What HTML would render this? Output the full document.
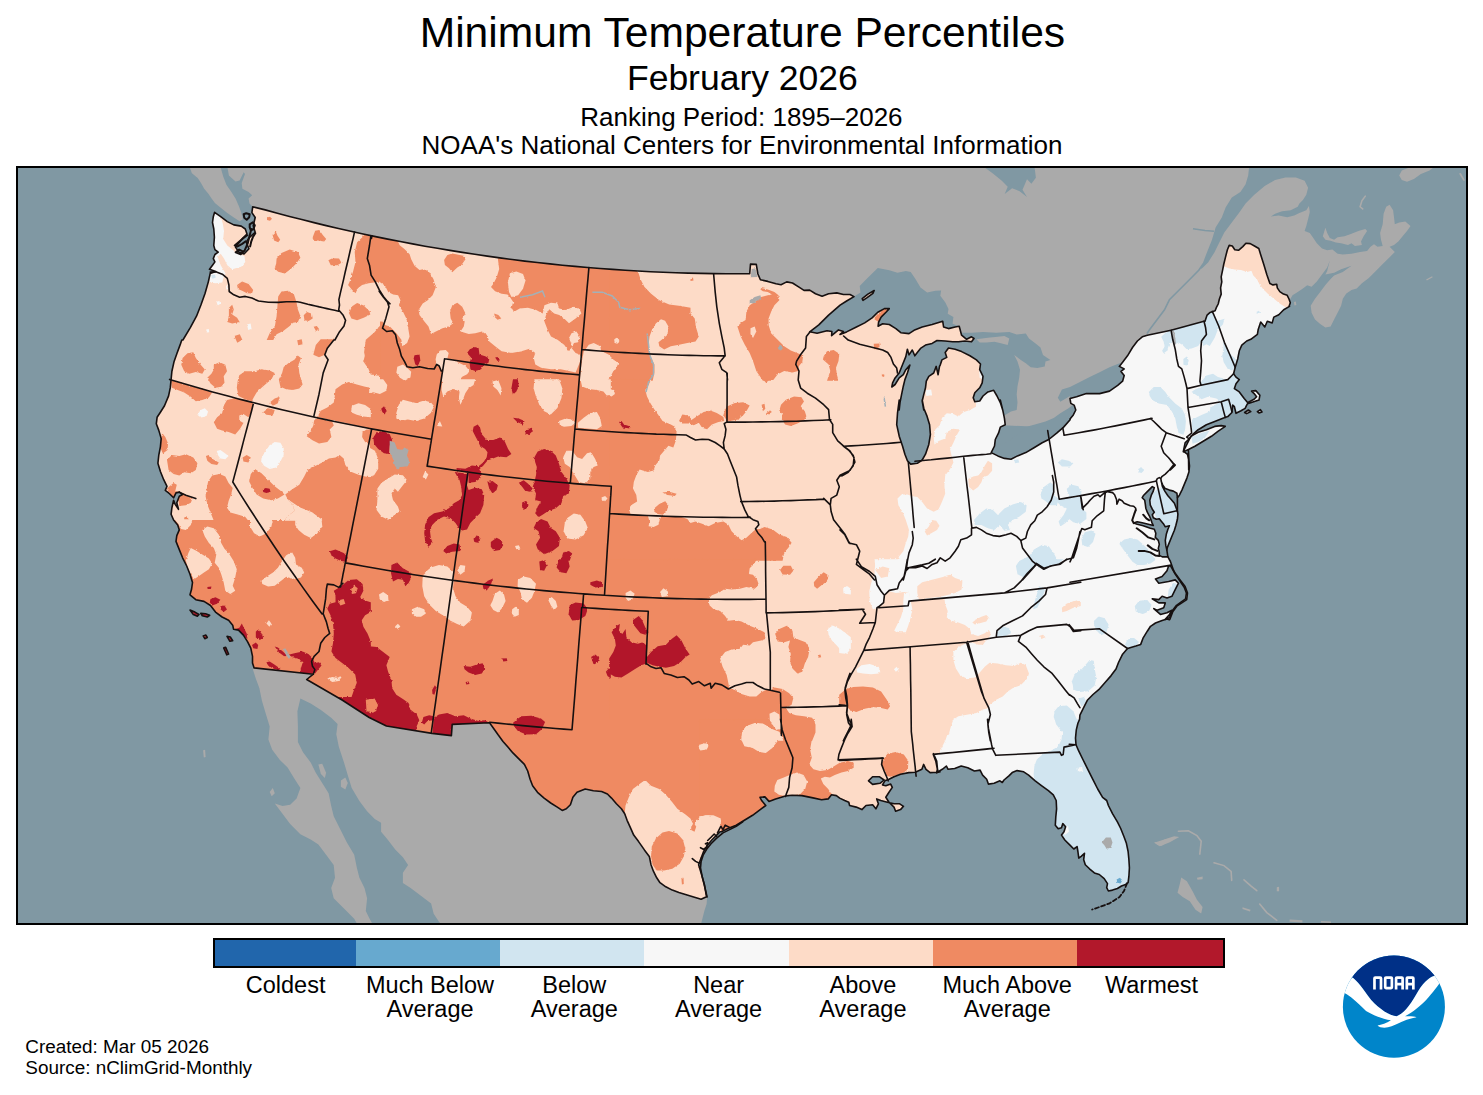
<!DOCTYPE html>
<html><head><meta charset="utf-8"><title>Minimum Temperature Percentiles</title>
<style>
html,body{margin:0;padding:0;background:#fff;}
body{width:1483px;height:1095px;overflow:hidden;font-family:"Liberation Sans",sans-serif;}
svg{display:block;}
text{font-family:"Liberation Sans",sans-serif;fill:#000;}
</style></head><body>
<svg width="1483" height="1095" viewBox="0 0 1483 1095">
<rect x="0" y="0" width="1483" height="1095" fill="#fff"/>
<!-- titles -->
<text x="742.4" y="46.8" font-size="42.6" text-anchor="middle">Minimum Temperature Percentiles</text>
<text x="742.4" y="90.2" font-size="35.5" text-anchor="middle">February 2026</text>
<text x="741.4" y="125.6" font-size="26" text-anchor="middle">Ranking Period: 1895–2026</text>
<text x="742" y="153.7" font-size="26" text-anchor="middle">NOAA's National Centers for Environmental Information</text>
<g id="map">
<defs><clipPath id="fr"><rect x="17" y="167" width="1450" height="757"/></clipPath>
<filter id="rough" x="0" y="0" width="100%" height="100%" filterUnits="userSpaceOnUse" primitiveUnits="userSpaceOnUse"><feTurbulence type="fractalNoise" baseFrequency="0.45" numOctaves="1" seed="3" result="n"/><feDisplacementMap in="SourceGraphic" in2="n" scale="2.6" xChannelSelector="R" yChannelSelector="G"/></filter>
<clipPath id="us"><path d="M252.7 206.8 L265.2 209.9 L277.4 213.2 L289.5 216.4 L301.8 219.6 L314.0 222.6 L326.2 225.6 L338.5 228.5 L350.8 231.3 L363.1 234.0 L375.5 236.6 L387.8 239.1 L400.2 241.5 L412.6 243.9 L425.0 246.2 L437.4 248.3 L449.9 250.4 L462.3 252.4 L474.8 254.3 L487.3 256.1 L499.8 257.9 L512.3 259.5 L524.8 261.1 L537.3 262.5 L549.9 263.9 L562.4 265.2 L575.0 266.4 L587.6 267.5 L600.1 268.5 L612.7 269.4 L625.3 270.3 L637.9 271.0 L650.5 271.7 L663.1 272.2 L675.7 272.7 L688.3 273.1 L701.0 273.4 L713.6 273.6 L726.2 273.7 L738.8 273.7 L749.7 273.6 L750.5 264.1 L756.3 264.4 L757.9 274.0 L760.4 279.7 L767.8 281.4 L776.0 283.8 L781.0 284.7 L786.7 281.9 L792.5 283.0 L799.0 287.1 L804.0 290.4 L809.7 290.1 L815.5 293.7 L822.1 296.2 L828.6 293.7 L836.8 292.9 L843.4 294.5 L850.0 294.5 L854.0 296.6 L846.6 301.0 L840.1 305.2 L828.6 315.1 L818.8 324.9 L809.7 331.8 L817.1 333.2 L827.0 330.7 L831.9 331.5 L831.6 335.6 L838.5 329.9 L843.4 331.5 L840.0 334.4 L846.6 331.9 L856.4 327.0 L864.7 322.9 L872.1 317.9 L877.8 312.2 L884.4 308.6 L889.3 308.6 L886.0 312.2 L881.1 317.1 L878.6 322.1 L878.1 326.2 L882.7 323.7 L889.3 324.5 L895.9 328.6 L900.8 332.7 L909.0 333.6 L914.0 330.3 L922.2 327.0 L932.1 324.5 L942.7 321.2 L943.6 327.0 L948.5 328.6 L955.1 327.0 L959.2 326.2 L961.6 335.2 L966.6 339.3 L971.5 336.8 L974.0 338.5 L971.5 341.8 L964.9 341.0 L958.4 341.8 L952.6 341.8 L945.2 341.0 L937.0 340.5 L932.1 343.4 L925.5 345.1 L920.5 348.4 L917.3 352.5 L914.8 355.8 L912.3 350.0 L909.0 354.9 L907.4 349.2 L905.8 356.6 L902.5 364.8 L899.2 373.0 L895.1 377.9 L892.6 382.9 L891.8 387.0 L895.1 384.5 L899.2 377.9 L903.3 374.7 L905.8 369.7 L909.9 365.1 L907.4 373.0 L904.9 379.6 L903.3 386.2 L901.6 394.4 L900.0 402.6 L899.2 410.0 L899.2 400.0 L897.5 413.2 L896.7 424.7 L899.2 436.2 L902.5 446.0 L904.9 454.2 L907.4 460.8 L910.7 464.1 L917.3 463.3 L922.2 460.0 L925.5 454.2 L928.8 444.4 L930.4 434.5 L929.6 424.7 L927.1 416.4 L923.8 408.2 L922.2 400.0 L923.8 410.0 L922.2 401.0 L923.8 394.4 L925.5 387.8 L926.3 381.2 L928.8 376.3 L933.7 373.0 L936.2 366.4 L938.1 374.7 L939.5 366.4 L940.3 364.8 L941.9 359.9 L946.8 357.4 L945.2 352.5 L948.5 348.0 L955.1 349.2 L961.6 351.6 L969.9 355.8 L976.4 359.9 L980.5 364.0 L979.7 369.7 L983.0 376.3 L982.2 382.9 L979.7 387.8 L974.8 392.7 L973.2 397.7 L974.8 401.8 L979.7 401.0 L983.0 396.0 L987.9 391.9 L993.7 390.3 L997.0 396.0 L1000.3 402.6 L1002.7 410.0 L1000.3 400.0 L1002.7 409.9 L1004.4 418.1 L1005.2 424.7 L1000.3 427.1 L998.6 432.9 L995.3 439.5 L994.5 446.0 L991.2 452.6 L997.8 455.9 L1004.4 458.4 L1011.0 459.2 L1017.5 455.9 L1025.8 452.6 L1034.0 447.7 L1042.2 442.7 L1048.8 439.5 L1057.0 432.9 L1063.6 427.1 L1070.1 419.7 L1070.0 419.0 L1073.3 414.9 L1075.8 410.0 L1074.1 405.1 L1070.8 403.4 L1070.0 398.5 L1076.6 396.8 L1086.4 393.6 L1099.6 393.6 L1109.5 391.1 L1117.7 385.3 L1122.6 381.2 L1124.2 375.5 L1121.0 371.4 L1124.2 368.9 L1119.3 366.4 L1122.6 362.3 L1127.5 355.8 L1132.5 347.5 L1137.4 341.0 L1142.3 336.8 L1147.3 335.2 L1171.1 330.3 L1204.0 321.2 L1205.0 321.2 L1207.1 315.1 L1210.1 312.4 L1215.1 310.8 L1216.3 307.7 L1218.2 304.0 L1219.4 299.0 L1221.2 294.1 L1220.6 287.9 L1221.8 281.8 L1221.2 276.8 L1222.5 270.7 L1223.7 264.5 L1225.5 257.1 L1227.4 249.7 L1229.2 245.4 L1232.3 246.0 L1234.8 249.7 L1238.5 250.3 L1242.8 246.6 L1245.9 243.3 L1250.2 243.6 L1254.5 246.0 L1258.8 248.5 L1260.7 254.7 L1263.8 264.5 L1266.8 274.4 L1269.9 283.6 L1273.0 284.9 L1276.7 284.2 L1277.3 287.9 L1279.8 291.6 L1283.5 294.1 L1287.2 295.3 L1289.0 299.0 L1290.3 302.7 L1289.0 306.4 L1289.5 306.4 L1283.7 309.7 L1278.8 314.7 L1273.8 317.1 L1272.2 322.9 L1267.3 321.2 L1264.8 327.0 L1260.7 322.1 L1258.2 329.5 L1257.4 334.4 L1250.8 339.3 L1246.7 341.0 L1241.8 345.1 L1239.3 350.8 L1237.7 359.0 L1235.2 367.3 L1233.6 373.8 L1236.0 377.1 L1239.3 379.6 L1236.0 383.7 L1234.4 388.6 L1239.3 391.9 L1244.2 398.5 L1248.4 403.4 L1259.0 400.1 L1259.9 395.2 L1255.8 390.6 L1251.6 391.1 L1254.1 393.6 L1256.6 396.8 L1254.1 399.3 L1248.4 402.1 L1246.7 405.1 L1245.1 408.4 L1241.0 410.8 L1236.0 413.3 L1234.4 406.7 L1232.7 405.1 L1231.9 412.5 L1227.8 416.6 L1222.9 418.2 L1214.7 421.5 L1206.4 424.8 L1198.2 429.7 L1192.5 434.7 L1189.2 438.8 L1185.1 442.9 L1183.4 451.1 L1187.5 454.4 L1189.2 462.6 L1188.7 470.0 L1188.4 450.0 L1188.9 460.0 L1189.5 466.0 L1188.9 472.1 L1186.9 478.1 L1184.4 484.1 L1181.9 490.1 L1179.4 495.2 L1177.4 497.7 L1177.4 511.2 L1177.9 514.2 L1177.4 519.3 L1175.9 525.3 L1174.4 530.3 L1171.9 536.3 L1169.4 542.4 L1167.4 547.4 L1166.8 549.9 L1167.9 556.9 L1170.4 561.5 L1173.4 570.0 L1175.2 573.3 L1180.1 579.9 L1185.1 586.4 L1187.5 593.0 L1186.7 599.6 L1181.8 602.9 L1176.8 606.2 L1172.7 611.9 L1169.9 619.3 L1169.5 619.7 L1167.0 618.9 L1162.1 620.5 L1155.5 623.0 L1150.5 626.3 L1147.3 631.2 L1143.2 637.8 L1140.7 644.4 L1135.8 646.0 L1127.5 648.5 L1122.6 654.2 L1118.5 662.5 L1116.0 669.0 L1111.1 675.6 L1105.3 682.2 L1099.6 688.8 L1093.0 694.5 L1087.3 700.3 L1084.0 706.8 L1079.9 715.1 L1079.6 719.2 L1077.9 723.3 L1076.3 729.9 L1075.5 738.1 L1076.0 744.7 L1078.8 751.2 L1082.9 759.5 L1087.8 769.3 L1092.7 779.2 L1097.7 789.0 L1102.6 797.3 L1106.7 800.5 L1108.4 805.5 L1112.5 813.7 L1117.4 821.9 L1120.7 828.5 L1124.0 836.7 L1126.4 843.3 L1128.1 851.5 L1128.9 859.7 L1129.4 867.9 L1128.9 876.2 L1128.1 882.7 L1125.6 884.4 L1121.5 886.0 L1117.4 888.5 L1112.5 890.1 L1108.4 891.0 L1106.7 887.7 L1107.5 883.6 L1104.2 878.6 L1099.3 874.5 L1094.4 872.9 L1089.5 868.8 L1085.3 864.7 L1083.7 859.7 L1084.5 853.2 L1081.2 856.4 L1078.8 858.1 L1077.9 851.5 L1077.1 846.6 L1073.8 849.0 L1069.7 844.9 L1064.8 840.0 L1061.5 835.1 L1064.0 831.8 L1065.6 826.8 L1062.8 823.6 L1061.5 827.7 L1058.2 828.8 L1055.3 825.2 L1055.8 817.0 L1056.6 808.8 L1056.2 800.5 L1053.3 794.8 L1048.4 790.7 L1041.8 785.8 L1035.2 780.8 L1028.6 775.1 L1023.7 771.8 L1017.1 770.6 L1012.2 772.6 L1008.9 775.9 L1004.0 780.0 L1002.3 782.5 L999.9 780.8 L994.1 783.3 L988.4 784.1 L986.7 779.2 L982.6 775.1 L980.1 770.1 L974.4 771.0 L967.8 767.7 L961.2 766.0 L954.7 768.5 L948.1 769.3 L946.4 766.0 L942.3 769.3 L936.6 772.6 L940.0 771.8 L936.7 772.3 L930.1 772.6 L926.0 769.3 L923.6 764.4 L921.9 769.3 L915.3 772.3 L908.8 772.6 L900.5 774.2 L894.0 776.7 L889.0 779.2 L884.9 780.8 L882.5 784.9 L885.8 785.8 L890.7 784.1 L892.3 787.4 L889.0 792.3 L885.8 797.3 L889.0 802.2 L894.0 807.1 L895.6 811.2 L900.5 809.6 L903.5 806.3 L899.7 803.8 L894.0 803.8 L887.4 802.2 L880.8 800.5 L876.7 798.9 L878.4 803.8 L875.9 808.8 L872.6 804.7 L866.0 805.5 L861.9 809.6 L856.2 807.1 L849.6 805.5 L848.8 802.2 L844.7 800.5 L839.7 798.1 L836.4 795.6 L831.5 794.8 L828.2 798.9 L821.6 799.7 L811.8 797.6 L801.9 795.6 L792.1 795.3 L785.5 795.9 L775.6 798.9 L769.0 801.4 L764.9 796.9 L760.0 797.3 L761.6 800.5 L765.8 805.5 L759.2 810.4 L752.6 815.3 L744.4 820.3 L736.2 825.2 L727.9 828.5 L721.4 831.8 L720.0 831.8 L716.7 835.1 L711.8 840.0 L707.7 844.9 L703.6 851.5 L701.1 858.1 L698.6 864.7 L701.1 872.9 L704.4 884.4 L706.5 896.7 L701.1 899.2 L695.3 897.5 L687.1 895.1 L678.9 892.6 L672.3 890.1 L665.8 886.8 L660.0 882.7 L656.7 877.8 L653.4 871.2 L651.0 864.7 L649.3 856.4 L644.4 849.9 L638.6 841.6 L633.7 835.1 L630.4 827.7 L627.1 820.3 L624.7 813.7 L621.4 808.8 L616.4 803.8 L611.5 798.1 L607.4 794.0 L601.6 791.5 L593.4 790.7 L585.2 789.0 L577.0 792.3 L572.9 797.3 L570.4 804.7 L566.3 808.8 L562.2 810.4 L557.3 807.1 L550.7 803.0 L544.1 798.1 L537.5 792.3 L532.6 785.8 L530.1 779.2 L527.7 771.0 L524.4 764.4 L518.6 758.6 L512.9 752.9 L507.9 747.1 L503.0 741.4 L498.1 734.8 L494.0 729.0 L489.9 723.3 L489.2 722.7 L452.2 724.4 L451.4 735.6 L432.1 733.4 L386.4 726.0 L369.2 717.5 L342.1 700.0 L306.7 679.5 L313.3 674.2 L254.1 667.9 L252.5 663.0 L252.5 656.4 L250.8 648.2 L247.5 641.6 L243.4 635.1 L238.5 630.1 L233.6 629.3 L232.7 625.2 L228.6 620.3 L222.1 617.0 L215.5 612.1 L210.5 605.5 L204.0 601.4 L195.8 599.7 L190.0 594.8 L191.6 589.0 L192.5 582.5 L190.0 574.2 L186.7 566.0 L182.6 557.8 L179.3 549.6 L176.0 541.4 L176.8 535.6 L179.3 529.9 L177.7 524.9 L173.6 520.0 L171.1 514.2 L171.9 507.7 L173.6 500.3 L175.2 504.4 L178.5 509.3 L176.8 502.7 L179.3 496.2 L182.6 494.5 L179.3 492.1 L176.0 492.9 L173.6 497.8 L169.5 493.7 L165.3 490.4 L167.0 486.3 L163.7 479.7 L160.4 471.5 L157.9 463.3 L158.8 455.1 L160.4 446.8 L161.2 438.6 L158.8 430.4 L156.3 423.8 L157.1 417.3 L160.4 412.3 L164.5 405.8 L168.6 395.9 L170.3 387.7 L171.1 379.5 L171.9 371.2 L174.1 361.4 L177.0 353.2 L180.1 344.9 L181.8 340.0 L182.9 340.0 L190.3 327.7 L196.5 316.2 L201.0 304.7 L205.1 293.2 L208.4 281.6 L210.2 273.4 L215.8 271.5 L209.5 269.3 L212.5 265.2 L214.9 261.9 L213.3 258.6 L214.9 254.5 L218.2 252.1 L214.9 249.6 L213.8 245.5 L214.4 237.3 L213.8 229.0 L212.5 222.5 L213.3 216.7 L214.6 212.3 L220.7 216.7 L227.3 221.6 L233.8 224.9 L241.2 226.1 L245.3 229.0 L247.0 234.0 L242.1 238.9 L235.5 247.1 L238.8 252.1 L244.0 254.0 L249.0 248.8 L246.2 242.2 L249.5 237.3 L255.2 232.3 L253.2 225.8 L255.2 217.5 L251.9 212.6 L252.7 206.8Z M1185.1 447.8 L1190.8 436.3 L1198.2 432.2 L1206.4 429.7 L1214.7 426.4 L1221.2 425.6 L1225.3 426.4 L1217.9 431.4 L1211.4 436.3 L1203.2 441.2 L1194.9 446.2 L1188.4 449.5 L1183.4 451.9Z M862.2 298.7 L867.9 294.1 L874.2 290.5 L872.9 293.3 L867.1 297.7 L863.0 300.4Z M1244.6 412.5 L1248.4 410.0 L1250.8 411.6 L1246.7 413.6Z M1257.4 411.6 L1260.4 409.7 L1262.0 412.0 L1259.0 413.0Z M190.0 610.1 L194.9 612.1 L199.0 614.5 L197.4 616.2 L193.3 614.5Z M200.7 613.4 L205.6 613.7 L209.7 615.3 L207.3 617.0 L202.3 615.7Z M203.2 635.9 L205.9 635.1 L207.3 637.5 L204.8 638.7Z M227.0 636.4 L230.3 637.0 L232.7 640.8 L229.9 641.3Z M223.7 647.9 L225.7 647.4 L228.6 654.0 L226.7 654.8Z"/></clipPath></defs>
<g clip-path="url(#fr)">
<rect x="17" y="167" width="1450" height="757" fill="#8098a3"/>
<g fill="#aaaaaa">
<path d="M227.3 166.6 L228.9 175.6 L235.5 181.4 L239.6 180.5 L243.7 172.3 L245.0 174.0 L241.7 183.0 L242.4 188.8 L248.6 192.1 L252.2 195.3 L248.6 198.6 L249.5 203.6 L252.7 206.8 L300.0 262.0 L700.0 300.0 L900.0 420.0 L1100.0 430.0 L1250.0 330.0 L1289.9 299.7 L1292.5 295.3 L1297.7 291.9 L1302.9 288.4 L1307.2 285.3 L1311.6 286.7 L1316.8 281.5 L1322.0 274.5 L1327.2 267.6 L1329.8 260.6 L1327.2 271.1 L1325.4 274.5 L1334.1 272.8 L1341.1 269.3 L1351.5 265.8 L1342.8 271.9 L1334.1 275.4 L1330.6 278.9 L1325.4 284.9 L1320.2 291.9 L1315.0 298.8 L1310.7 305.8 L1311.6 312.7 L1315.0 319.6 L1320.2 324.0 L1325.4 327.4 L1330.6 326.6 L1334.1 319.6 L1337.6 312.7 L1341.1 305.8 L1342.8 298.8 L1346.3 293.6 L1351.5 290.1 L1356.7 288.4 L1361.9 283.2 L1368.8 278.0 L1375.8 271.1 L1382.7 264.1 L1389.6 257.2 L1394.8 252.0 L1389.6 246.8 L1394.0 245.0 L1398.3 241.6 L1402.6 236.3 L1407.0 231.1 L1410.5 225.9 L1405.3 221.6 L1399.2 222.5 L1394.8 224.2 L1394.0 217.3 L1393.1 210.3 L1389.6 204.8 L1386.2 206.8 L1383.6 213.8 L1382.7 224.2 L1380.1 232.9 L1381.0 239.8 L1382.7 245.9 L1377.5 246.8 L1374.0 244.2 L1370.5 246.8 L1367.1 251.1 L1360.1 252.0 L1351.5 253.7 L1342.8 254.6 L1337.6 253.7 L1332.4 249.4 L1327.2 250.2 L1322.0 248.5 L1316.8 243.3 L1313.3 238.1 L1309.8 232.9 L1304.6 231.1 L1306.3 225.9 L1308.1 219.0 L1309.8 212.1 L1308.9 206.0 L1306.3 210.3 L1299.4 212.9 L1294.2 215.5 L1287.3 217.3 L1278.6 215.5 L1270.8 216.4 L1275.1 213.8 L1282.1 211.2 L1290.7 210.3 L1297.7 206.8 L1299.4 203.4 L1302.9 199.9 L1306.3 194.7 L1308.1 187.8 L1304.6 180.8 L1295.9 177.4 L1285.5 177.4 L1275.1 180.0 L1275.1 180.0 L1264.7 186.0 L1254.3 194.7 L1245.6 203.4 L1239.3 212.5 L1231.8 222.4 L1224.3 232.4 L1219.3 242.4 L1214.4 252.4 L1208.1 262.4 L1201.9 268.6 L1198.1 269.8 L1203.1 262.4 L1206.9 252.4 L1211.9 239.9 L1215.6 227.4 L1221.8 217.4 L1225.6 207.5 L1231.8 197.5 L1240.4 192.1 L1245.6 184.3 L1248.2 175.6 L1249.1 167.3 L1249.5 160.0 L1251.0 160.0 L227.0 160.0Z"/>
<path d="M189.5 166.6 L191.9 173.2 L197.7 178.1 L201.0 183.0 L204.2 188.8 L208.4 193.7 L211.6 198.6 L214.9 203.1 L220.7 207.7 L227.3 212.9 L233.8 217.5 L239.6 221.2 L242.9 219.2 L241.2 212.6 L238.8 206.0 L235.5 198.6 L231.4 192.1 L226.4 184.7 L223.2 176.4 L220.4 166.6Z"/>
<path d="M1154.4 842.0 L1160.1 842.5 L1165.1 839.2 L1170.0 838.4 L1166.7 842.5 L1161.8 845.8 L1157.7 844.9Z"/>
<path d="M253.0 669.7 L255.6 677.9 L259.4 688.2 L262.0 701.0 L265.8 713.8 L269.7 726.6 L268.4 739.4 L272.2 749.7 L279.9 759.9 L287.6 767.6 L294.0 777.9 L300.4 788.1 L296.6 798.4 L290.2 804.8 L282.5 806.1 L274.8 803.5 L282.5 813.7 L290.2 824.0 L300.4 834.2 L310.7 839.4 L318.4 844.5 L326.1 854.7 L333.7 865.0 L335.0 877.8 L331.2 888.1 L333.7 898.3 L344.0 908.6 L354.2 918.8 L359.4 927.8 L700.5 926.0 L704.4 910.7 L706.6 904.1 L707.1 897.5 L695.0 880.0 L685.0 800.0 L600.0 700.0 L400.0 640.0 L250.0 640.0Z"/>
<path d="M269.7 792.0 L272.8 788.1 L274.8 793.2 L271.7 796.3Z"/>
<path d="M203.1 750.2 L205.1 749.7 L205.6 756.9 L203.8 757.4Z"/>
<path d="M1154.1 842.8 L1162.7 839.9 L1174.1 836.2 L1179.2 837.0 L1169.8 842.2 L1159.8 846.2Z"/>
<path d="M1181.2 877.5 L1186.9 881.3 L1192.6 891.2 L1196.9 899.8 L1202.6 906.9 L1201.2 913.5 L1195.5 909.8 L1189.8 901.2 L1182.7 896.9 L1177.5 892.7 L1179.8 884.1Z"/>
<path d="M1196.9 877.8 L1202.6 876.4 L1202.6 879.3 L1197.5 879.8Z"/>
<path d="M1276.8 887.2 L1279.1 886.7 L1279.1 891.2 L1276.8 891.2Z"/>
<path d="M1242.5 907.2 L1250.5 909.8 L1250.0 911.5 L1242.5 908.9Z"/>
<path d="M1289.6 919.5 L1302.4 920.3 L1302.4 922.6 L1289.6 921.8Z"/>
<path d="M1321.0 920.9 L1331.0 921.5 L1331.0 922.9 L1321.0 922.6Z"/>
<path d="M1322.8 236.3 L1325.4 227.7 L1327.2 232.9 L1329.8 238.1 L1334.1 239.8 L1337.6 237.2 L1344.5 236.3 L1351.5 233.7 L1358.4 231.1 L1365.3 229.1 L1367.1 231.1 L1363.6 236.3 L1361.0 241.6 L1361.9 245.0 L1354.9 245.9 L1351.5 243.3 L1348.0 245.0 L1341.1 243.3 L1335.8 242.4 L1330.6 240.7 L1325.4 239.8Z"/>
<path d="M1399.2 175.6 L1401.8 170.4 L1408.7 167.8 L1420.9 166.6 L1434.7 166.6 L1429.5 170.4 L1420.9 173.9 L1413.9 179.1 L1407.0 181.7 L1401.8 180.0Z"/>
<path d="M1459.0 173.5 L1460.8 173.0 L1465.1 180.5 L1463.4 180.8Z"/>
<path d="M1293.9 301.9 L1295.9 301.4 L1296.3 304.9 L1294.5 305.4Z"/>
<path d="M1426.1 279.4 L1432.1 276.3 L1432.7 277.3 L1426.9 280.4Z"/>
</g>
<g fill="none" stroke="#aaaaaa" stroke-width="1.6" stroke-linecap="round">
<path d="M1178.4 831.3 L1188.4 830.8 L1196.9 835.6 L1201.2 841.3 L1199.8 854.2"/>
<path d="M1214.0 862.7 L1224.0 865.6 L1231.1 871.3 L1231.7 880.4"/>
<path d="M1244.0 879.8 L1251.1 886.1 L1256.8 890.7"/>
<path d="M1259.7 904.1 L1266.8 912.6 L1276.8 920.3"/>
<path d="M1365.3 196.1 L1361.9 200.8 L1360.1 206.8 L1362.7 208.9"/>
</g>
<g fill="#8098a3">
<path d="M809.7 331.8 L818.8 324.9 L828.6 315.1 L840.1 305.2 L846.6 301.0 L854.0 296.6 L860.5 292.5 L859.7 285.9 L866.3 279.3 L872.9 272.7 L877.8 268.1 L889.3 270.3 L897.5 272.7 L905.8 271.1 L910.7 271.9 L915.6 279.3 L920.5 287.5 L927.1 292.5 L935.3 290.8 L941.1 290.5 L940.3 295.8 L945.2 302.3 L948.5 308.9 L947.7 313.8 L953.4 317.1 L952.6 323.7 L959.2 326.2 L959.2 326.2 L955.1 327.0 L948.5 328.6 L943.6 327.0 L942.7 321.2 L932.1 324.5 L922.2 327.0 L914.0 330.3 L909.0 333.6 L900.8 332.7 L895.9 328.6 L889.3 324.5 L882.7 323.7 L878.1 326.2 L878.6 322.1 L881.1 317.1 L886.0 312.2 L889.3 308.6 L884.4 308.6 L877.8 312.2 L872.1 317.9 L864.7 322.9 L856.4 327.0 L846.6 331.9 L840.0 334.4 L840.0 334.4 L843.4 331.5 L838.5 329.9 L831.6 335.6 L831.9 331.5 L827.0 330.7 L817.1 333.2 L809.7 331.8Z"/>
<path d="M923.8 410.0 L922.2 401.0 L923.8 394.4 L925.5 387.8 L926.3 381.2 L928.8 376.3 L933.7 373.0 L936.2 366.4 L938.1 374.7 L939.5 366.4 L940.3 364.8 L941.9 359.9 L946.8 357.4 L945.2 352.5 L948.5 348.0 L952.6 341.8 L945.2 341.0 L937.0 340.5 L932.1 343.4 L925.5 345.1 L920.5 348.4 L917.3 352.5 L914.8 355.8 L912.3 350.0 L909.0 354.9 L907.4 349.2 L905.8 356.6 L902.5 364.8 L899.2 373.0 L895.1 377.9 L892.6 382.9 L891.8 387.0 L895.1 384.5 L899.2 377.9 L903.3 374.7 L905.8 369.7 L909.9 365.1 L907.4 373.0 L904.9 379.6 L903.3 386.2 L901.6 394.4 L900.0 402.6 L899.2 410.0 L899.2 400.0 L897.5 413.2 L896.7 424.7 L899.2 436.2 L902.5 446.0 L904.9 454.2 L907.4 460.8 L910.7 464.1 L917.3 463.3 L922.2 460.0 L925.5 454.2 L928.8 444.4 L930.4 434.5 L929.6 424.7 L927.1 416.4 L923.8 408.2 L922.2 400.0Z"/>
<path d="M948.5 348.0 L952.6 341.8 L958.4 341.8 L964.9 341.0 L971.5 341.8 L974.0 338.5 L971.5 336.8 L966.6 339.3 L961.6 335.2 L961.6 332.7 L971.5 332.7 L983.0 331.9 L996.2 332.7 L1009.3 331.9 L1016.7 334.4 L1025.8 333.6 L1029.0 338.5 L1035.6 343.4 L1040.5 347.5 L1043.0 354.9 L1050.4 359.9 L1045.5 361.5 L1044.7 366.4 L1037.3 368.1 L1030.7 367.3 L1025.8 363.2 L1020.8 359.9 L1014.2 354.9 L1017.5 361.5 L1020.0 369.7 L1019.2 377.9 L1017.5 386.2 L1016.7 394.4 L1017.5 402.6 L1016.7 410.0 L1011.0 411.5 L1004.4 415.6 L1002.7 410.0 L1000.3 402.6 L997.0 396.0 L993.7 390.3 L987.9 391.9 L983.0 396.0 L979.7 401.0 L974.8 401.8 L973.2 397.7 L974.8 392.7 L979.7 387.8 L982.2 382.9 L983.0 376.3 L979.7 369.7 L980.5 364.0 L976.4 359.9 L969.9 355.8 L961.6 351.6 L955.1 349.2 L948.5 348.0Z"/>
<path d="M991.2 452.6 L997.8 455.9 L1004.4 458.4 L1011.0 459.2 L1017.5 455.9 L1025.8 452.6 L1034.0 447.7 L1042.2 442.7 L1048.8 439.5 L1057.0 432.9 L1063.6 427.1 L1070.1 419.7 L1070.0 419.0 L1073.3 414.9 L1075.8 410.0 L1074.1 405.1 L1074.2 404.1 L1068.5 408.2 L1060.3 413.2 L1053.7 418.1 L1045.5 421.4 L1034.0 424.7 L1025.8 427.1 L1019.2 432.9 L1011.0 439.5 L1004.4 443.6 L995.3 445.2 L991.2 452.6Z"/>
<path d="M1070.0 398.5 L1076.6 396.8 L1086.4 393.6 L1099.6 393.6 L1109.5 391.1 L1117.7 385.3 L1122.6 381.2 L1124.2 375.5 L1121.0 371.4 L1124.2 368.9 L1119.3 366.4 L1122.6 362.3 L1117.7 364.0 L1109.5 367.3 L1099.6 372.2 L1089.7 377.1 L1079.9 382.1 L1070.0 387.0 L1061.9 389.5 L1057.8 397.7 L1060.3 401.8 L1070.1 396.0Z"/>
<path d="M300.4 698.4 L310.7 703.6 L320.9 710.0 L331.2 717.7 L337.6 724.1 L336.3 734.3 L338.9 747.1 L344.0 762.5 L347.8 775.3 L351.7 788.1 L359.4 800.9 L367.1 811.2 L374.7 818.9 L381.1 822.7 L381.1 831.7 L387.6 839.4 L395.2 849.6 L402.9 857.3 L408.1 865.0 L402.9 872.7 L402.9 882.9 L410.6 888.1 L420.9 895.7 L431.1 903.4 L433.7 913.7 L438.8 921.4 L443.9 927.8 L374.7 927.8 L369.6 918.8 L365.8 911.1 L367.1 898.3 L364.5 888.1 L359.4 877.8 L356.8 867.6 L354.2 854.7 L346.6 841.9 L340.1 829.1 L333.7 816.3 L331.2 806.1 L328.6 793.2 L322.2 783.0 L315.8 772.7 L310.7 762.5 L303.0 752.2 L297.9 742.0 L297.9 726.6 L297.4 711.2Z"/>
<path d="M982.5 165.9 L1034.4 165.9 L1035.9 177.8 L1031.4 183.7 L1027.0 179.3 L1022.5 189.7 L1027.0 197.1 L1019.6 191.2 L1012.1 188.2 L1004.7 194.1 L1007.7 186.7 L1001.8 180.8 L992.9 173.4Z"/>
</g>
<path d="M1200.0 269.0 L1189.4 279.8 L1179.4 289.8 L1169.4 299.8 L1164.5 309.8 L1157.0 319.7 L1149.5 329.7 L1147.0 333.5 M1193.0 228.7 L1205.0 230.5 L1214.0 231.2" fill="none" stroke="#8098a3" stroke-width="1.6"/>
<g fill="#aaaaaa">
<path d="M976.4 339.3 L987.9 337.7 L997.8 336.8 L1004.4 336.0 L1009.3 338.5 L1007.7 345.1 L1001.9 343.4 L994.5 341.8 L986.3 342.6 L979.7 342.6Z"/>
<path d="M318.4 764.5 L322.2 763.8 L326.1 772.7 L324.8 777.9 L320.9 774.0Z"/>
<path d="M340.9 780.4 L345.3 777.4 L347.8 783.0 L345.3 789.4 L340.9 786.8Z"/>
</g>
<g clip-path="url(#us)"><g filter="url(#rough)">
<rect x="60" y="150" width="1350" height="800" fill="#fddbc7"/>
<g fill="#ef8a62"><path d="M267.0 217.5 L270.0 216.7 L272.0 218.8 L270.0 220.8 L267.0 220.0Z"/><path d="M272.5 234.8 L275.8 231.5 L277.4 235.6 L280.2 239.7 L278.2 242.2 L274.1 240.5Z"/><path d="M312.7 237.3 L315.2 230.7 L319.3 229.9 L322.6 234.8 L326.2 238.9 L324.2 241.4 L317.7 240.5 L313.6 240.9Z"/><path d="M276.6 258.6 L281.5 252.9 L289.7 249.6 L297.9 252.1 L300.4 257.8 L296.3 263.6 L291.4 268.5 L284.8 273.4 L278.2 271.8 L274.6 268.5 L276.2 263.6Z"/><path d="M328.4 260.3 L332.5 258.3 L339.0 258.6 L341.5 262.7 L337.4 265.2 L330.8 265.2Z"/><path d="M237.1 284.9 L242.1 281.6 L248.6 284.1 L253.2 289.9 L251.9 293.5 L247.0 293.2 L242.1 290.7 L237.9 289.0Z"/><path d="M278.2 296.4 L281.5 291.5 L288.1 290.7 L293.8 294.0 L296.3 301.4 L297.9 309.6 L300.4 316.2 L297.9 321.9 L293.0 322.7 L289.7 326.0 L283.2 331.0 L276.6 334.2 L273.3 340.0 L266.7 340.0 L270.0 332.6 L274.9 326.0 L276.6 316.2 L277.4 306.3Z"/><path d="M303.7 315.3 L307.0 312.1 L311.9 313.7 L312.7 318.6 L308.6 321.1 L304.5 320.3Z"/><path d="M228.9 307.9 L232.2 304.7 L233.8 309.6 L232.2 314.5 L237.1 317.8 L239.6 321.9 L232.2 323.6 L227.3 321.9 L228.9 316.2Z"/><path d="M313.6 326.8 L316.8 326.0 L319.3 329.3 L316.0 331.0Z"/><path d="M348.9 312.9 L352.2 306.3 L357.1 303.0 L363.7 305.5 L369.5 311.2 L370.3 314.5 L363.7 317.8 L357.1 320.3 L351.4 318.6Z"/><path d="M363.7 225.8 L363.7 235.9 L357.1 242.2 L354.7 252.1 L355.5 261.9 L353.0 271.8 L349.7 281.6 L348.1 284.9 L352.2 289.9 L355.5 293.2 L357.9 288.2 L362.1 284.9 L368.6 283.3 L373.6 282.5 L381.0 281.6 L381.0 225.8Z"/><path d="M380.0 200.0 L620.0 200.0 L620.0 380.0 L380.0 380.0Z"/><path d="M609.2 265.8 L637.9 265.8 L637.9 271.0 L640.4 278.9 L644.5 287.1 L651.1 293.7 L659.3 300.3 L669.2 304.4 L680.7 306.0 L690.5 307.7 L690.5 313.4 L694.7 318.4 L696.3 328.2 L698.8 336.4 L695.5 341.4 L687.3 343.0 L679.0 344.7 L670.8 346.3 L664.2 349.6 L659.3 346.3 L658.5 342.2 L662.6 338.9 L667.5 334.8 L668.4 326.6 L665.1 320.8 L661.0 319.2 L656.0 323.3 L651.9 329.9 L649.5 336.4 L648.6 344.7 L649.5 351.2 L651.1 357.8 L654.4 364.4 L654.4 372.6 L652.7 380.8 L609.2 380.8Z"/><path d="M690.5 278.6 L693.0 277.6 L693.5 280.5 L690.5 280.9Z"/><path d="M761.2 287.9 L767.8 289.6 L774.4 292.1 L778.5 295.3 L779.3 300.3 L774.4 305.2 L771.1 311.8 L768.6 318.4 L768.6 324.9 L771.1 333.2 L777.7 339.7 L784.2 346.3 L790.8 350.4 L799.0 353.7 L803.2 355.3 L802.3 361.9 L799.0 366.0 L798.2 371.0 L792.5 372.6 L784.2 371.0 L777.7 374.2 L772.7 380.8 L762.9 380.8 L756.3 371.0 L753.0 361.1 L749.7 352.9 L744.8 344.7 L740.7 336.4 L737.4 326.6 L741.5 322.5 L745.6 320.0 L746.4 311.8 L749.7 305.2 L754.7 301.9 L761.2 297.0 L767.8 295.3 L771.9 294.5 L767.8 292.1 L762.9 291.2 L760.4 289.6Z"/><path d="M823.7 356.2 L827.0 351.2 L833.6 349.9 L839.3 353.7 L838.5 361.1 L836.0 367.7 L836.8 374.2 L838.5 380.8 L827.0 380.8 L830.3 371.0 L828.6 364.4 L822.9 359.5Z"/><path d="M873.7 318.8 L878.6 313.0 L884.4 308.6 L889.3 308.6 L886.0 312.2 L881.1 317.1 L878.6 322.1 L876.2 320.4Z"/><path d="M873.7 343.8 L879.5 343.4 L879.5 349.2 L874.2 349.2Z"/><path d="M881.9 373.8 L884.4 374.7 L884.1 377.1 L881.9 376.3Z"/><path d="M182.6 358.1 L187.5 353.2 L193.3 352.3 L195.8 358.1 L200.7 364.7 L204.8 369.6 L202.3 373.7 L195.8 372.1 L189.2 373.7 L184.2 371.2 L181.3 364.7Z"/><path d="M213.8 364.7 L219.6 362.2 L225.3 364.7 L227.0 371.2 L223.7 376.2 L224.5 382.7 L221.2 386.8 L215.5 387.7 L210.5 383.6 L207.3 377.8 L211.4 373.7 L213.8 369.6Z"/><path d="M171.1 380.3 L179.3 382.4 L192.5 386.4 L204.0 389.3 L212.2 392.3 L208.9 397.5 L202.3 400.0 L195.8 401.2 L190.8 396.7 L184.2 392.6 L177.7 390.1 L171.9 387.7Z"/><path d="M239.3 375.3 L245.1 371.2 L254.9 371.2 L261.5 369.3 L269.7 370.4 L274.7 372.9 L271.4 379.5 L266.4 383.6 L261.5 387.7 L256.6 392.6 L254.1 396.7 L251.6 401.6 L245.1 399.2 L238.5 395.9 L236.8 387.7 L237.7 381.1Z"/><path d="M283.7 367.1 L288.6 363.0 L294.4 359.7 L297.7 355.6 L301.0 358.1 L298.5 364.7 L299.3 372.9 L302.6 384.4 L299.3 388.5 L292.7 390.1 L286.2 389.3 L280.4 386.8 L278.8 379.5 L282.1 372.9Z"/><path d="M315.8 344.9 L320.7 339.2 L333.8 339.2 L327.3 348.2 L324.8 354.8 L319.0 357.3 L313.3 354.8Z"/><path d="M223.7 405.8 L227.0 400.0 L235.2 397.9 L245.1 399.5 L253.3 403.3 L251.6 412.3 L248.4 417.3 L243.4 414.0 L239.3 415.6 L239.3 420.5 L243.4 423.0 L240.1 428.8 L235.2 434.5 L228.6 432.1 L222.1 430.4 L217.1 428.8 L213.8 422.2 L217.1 417.3 L222.1 413.2Z"/><path d="M269.7 402.5 L274.7 398.4 L279.6 396.7 L277.9 403.3 L273.0 405.8Z"/><path d="M263.2 412.3 L268.1 408.2 L274.7 409.9 L273.0 415.6 L266.4 414.8Z"/><path d="M314.1 420.5 L317.4 417.3 L332.2 421.4 L333.8 425.5 L329.7 429.6 L331.4 437.0 L327.3 441.9 L319.0 443.6 L312.5 440.3 L306.7 436.2 L310.8 430.4 L313.3 425.5Z"/><path d="M335.5 389.3 L342.1 384.4 L348.6 381.9 L356.8 384.4 L365.1 386.8 L370.8 387.7 L370.8 428.8 L360.1 426.3 L348.6 423.8 L333.8 420.5 L317.4 416.9 L320.7 410.7 L327.3 407.4 L333.8 402.5 L334.7 395.9Z"/><path d="M365.1 354.8 L370.8 352.3 L370.8 367.9 L366.7 366.3 L363.4 361.4Z"/><path d="M162.1 432.9 L165.3 437.0 L168.1 443.6 L167.5 450.1 L162.9 453.4 L159.9 446.8 L161.2 438.6Z"/><path d="M167.0 460.0 L171.9 455.1 L179.3 455.9 L185.9 454.2 L193.3 457.5 L197.4 463.3 L195.8 469.9 L190.8 473.2 L184.2 472.3 L179.3 475.6 L173.6 474.0 L168.6 469.9 L167.8 464.9Z"/><path d="M205.9 455.9 L208.9 455.1 L213.0 459.2 L218.8 462.5 L217.1 464.9 L211.4 464.1 L207.3 460.8Z"/><path d="M208.1 481.4 L212.2 475.6 L219.6 474.0 L225.3 476.4 L228.6 483.0 L232.7 487.9 L231.1 494.5 L228.6 501.1 L227.0 507.7 L230.3 512.6 L236.8 514.2 L245.1 516.7 L248.4 520.8 L213.8 520.8 L210.5 512.6 L207.3 504.4 L205.6 496.2 L206.9 487.9Z"/><path d="M169.5 486.3 L173.6 483.0 L176.8 484.7 L175.2 491.2 L179.3 492.1 L185.9 495.3 L192.5 498.6 L190.8 502.7 L185.9 505.2 L179.3 506.0 L178.5 501.9 L176.8 497.8 L173.6 497.8 L169.5 493.7 L167.0 488.8Z"/><path d="M250.8 474.0 L254.9 469.0 L261.5 473.2 L268.1 479.7 L274.7 486.3 L281.2 491.2 L284.5 494.5 L277.9 498.6 L271.4 500.3 L263.2 498.6 L256.6 494.5 L252.5 487.9 L249.2 481.4Z"/><path d="M242.6 457.5 L246.7 455.1 L250.8 457.5 L248.4 462.5 L243.4 461.6Z"/><path d="M285.3 494.5 L291.9 489.6 L299.3 484.7 L304.2 476.4 L307.5 469.9 L314.1 466.6 L322.3 462.5 L328.9 458.4 L335.5 457.5 L339.6 455.1 L343.7 458.4 L345.3 464.9 L350.3 471.5 L358.5 474.8 L365.1 476.4 L370.8 477.3 L370.8 520.8 L284.5 520.8 L287.8 515.9 L294.4 511.0 L292.7 504.4 L287.8 499.5Z"/><path d="M184.2 517.5 L187.5 515.9 L189.2 520.8 L184.2 520.8Z"/><path d="M362.6 432.1 L366.7 429.6 L370.8 429.6 L370.8 445.2 L365.1 441.9 L362.1 437.0Z"/><path d="M370.0 380.0 L610.0 380.0 L610.0 560.0 L370.0 560.0Z"/><path d="M609.2 379.2 L651.1 379.2 L648.6 384.9 L645.3 389.9 L647.0 396.4 L650.3 403.0 L654.4 409.6 L658.5 415.3 L662.6 421.1 L670.8 424.4 L674.9 426.8 L676.6 432.6 L675.8 440.8 L673.3 447.4 L668.4 445.8 L664.2 450.7 L660.1 455.6 L659.3 460.5 L655.2 465.5 L653.6 470.4 L647.8 472.1 L639.6 469.6 L636.3 475.3 L633.8 481.9 L633.0 488.5 L636.3 495.1 L637.1 501.6 L631.4 504.9 L628.9 508.2 L630.5 514.0 L647.8 515.6 L649.5 521.4 L648.6 526.3 L653.6 527.1 L658.5 524.7 L660.1 518.1 L661.0 516.1 L680.7 516.8 L687.3 518.9 L690.5 523.0 L695.5 521.4 L702.1 523.8 L708.6 526.3 L715.2 523.0 L723.4 521.4 L728.4 524.7 L731.6 531.2 L736.6 536.2 L741.5 540.3 L746.4 537.8 L751.4 532.9 L755.5 529.6 L758.8 529.6 L764.5 527.1 L772.7 529.6 L779.3 534.5 L786.7 537.0 L791.6 542.7 L788.4 547.7 L784.2 552.6 L782.6 560.8 L609.2 560.8Z"/><path d="M655.2 507.4 L659.3 504.1 L665.1 501.3 L668.4 504.9 L666.7 511.5 L662.6 514.8 L657.7 514.0 L654.1 511.5Z"/><path d="M662.3 492.6 L669.2 491.8 L676.6 493.8 L674.9 495.9 L667.5 495.1Z"/><path d="M679.0 421.1 L682.3 414.5 L687.3 415.3 L692.2 419.5 L697.1 416.2 L703.7 412.1 L710.3 410.4 L716.8 412.9 L723.4 417.0 L724.2 421.1 L718.5 421.9 L711.9 424.4 L707.0 429.3 L702.1 427.7 L698.8 422.7 L693.8 425.2 L688.9 423.6 L682.3 423.6Z"/><path d="M727.5 406.3 L734.9 403.0 L743.2 402.2 L749.7 405.5 L746.4 411.2 L743.2 415.3 L738.2 419.5 L731.6 420.8 L727.0 421.1 L723.4 415.3 L725.1 409.6Z"/><path d="M761.6 404.7 L764.5 403.8 L765.3 408.8 L762.9 411.2Z"/><path d="M765.3 413.7 L770.3 410.4 L771.9 412.1 L767.0 415.3Z"/><path d="M781.0 404.7 L785.9 399.7 L794.1 396.4 L801.5 397.3 L804.0 401.4 L800.7 406.3 L804.8 411.2 L806.4 416.2 L804.0 420.3 L797.4 423.6 L790.8 426.0 L785.1 424.4 L781.8 419.5 L782.6 414.5 L779.3 410.4Z"/><path d="M762.9 379.2 L769.5 379.2 L766.2 383.0Z"/><path d="M130.0 520.0 L370.0 520.0 L370.0 700.0 L130.0 700.0Z"/><path d="M370.0 560.0 L610.0 560.0 L610.0 740.0 L370.0 740.0Z"/><path d="M609.2 559.2 L757.1 559.2 L753.0 564.9 L749.7 568.2 L748.9 574.0 L753.0 574.8 L757.1 579.7 L758.8 584.7 L754.7 588.8 L746.4 587.1 L739.9 588.8 L731.6 589.6 L725.1 588.8 L720.1 592.1 L711.9 595.3 L708.6 598.6 L709.5 605.2 L713.6 609.3 L720.1 611.0 L725.1 615.9 L728.4 620.8 L734.9 620.0 L741.5 621.6 L749.7 625.8 L757.9 629.0 L764.5 632.3 L765.3 638.9 L761.2 640.5 L753.0 642.2 L749.7 645.5 L743.2 644.7 L739.9 648.8 L731.6 649.6 L725.1 652.1 L720.1 658.6 L722.6 666.8 L726.7 675.1 L728.4 683.3 L729.2 688.2 L734.9 689.9 L741.5 694.0 L749.7 696.4 L756.3 696.4 L761.2 692.3 L767.8 689.0 L770.3 689.9 L774.4 687.4 L782.6 689.0 L789.2 693.2 L793.3 698.1 L791.6 704.7 L785.9 707.9 L789.2 712.9 L795.8 715.3 L804.0 716.2 L812.2 717.8 L815.5 724.4 L815.5 732.6 L812.2 740.8 L609.2 740.8Z"/><path d="M780.1 569.9 L783.4 565.8 L790.8 565.8 L793.3 570.7 L790.0 574.8 L782.6 574.5Z"/><path d="M813.8 582.2 L818.8 576.4 L823.7 572.3 L828.6 575.6 L827.0 581.4 L822.1 584.7 L817.1 588.8 L814.2 586.3Z"/><path d="M775.2 634.0 L779.3 629.0 L786.7 625.8 L792.5 630.7 L793.3 637.3 L799.0 639.7 L805.6 642.2 L809.7 648.8 L808.1 657.0 L804.8 663.6 L802.3 671.8 L797.4 673.4 L792.5 668.5 L790.0 661.9 L790.8 653.7 L788.4 647.1 L790.0 640.5 L784.2 642.2 L777.7 641.4Z"/><path d="M841.0 696.4 L845.1 689.9 L850.8 687.4 L850.8 704.7 L844.2 703.8Z"/><path d="M817.9 655.3 L820.4 654.5 L821.2 657.3 L818.4 657.8Z"/><path d="M839.2 694.8 L844.9 689.9 L853.2 686.9 L863.0 686.6 L872.9 687.4 L881.1 691.5 L886.8 699.7 L890.1 706.3 L887.7 709.6 L881.1 707.9 L872.9 707.1 L864.7 708.8 L856.4 712.1 L849.9 710.4 L846.6 705.5 L839.2 704.7Z"/><path d="M480.0 720.0 L720.0 720.0 L720.0 900.0 L480.0 900.0Z"/><path d="M699.2 719.2 L815.1 719.2 L813.4 729.9 L811.8 739.7 L810.1 749.6 L811.8 757.8 L809.3 764.4 L813.4 769.3 L820.0 771.0 L827.4 770.1 L833.2 766.8 L839.7 762.7 L847.9 761.1 L853.7 762.7 L853.7 767.7 L847.9 771.0 L841.4 772.6 L834.8 775.1 L829.9 777.5 L824.9 776.7 L820.8 778.4 L823.3 784.1 L828.2 789.0 L831.5 794.0 L831.5 805.5 L699.2 900.8Z"/><path d="M883.3 759.5 L887.4 753.7 L895.6 752.1 L903.8 754.5 L908.4 761.1 L907.9 769.3 L903.8 772.6 L897.3 775.1 L890.7 776.7 L886.6 775.9 L884.1 771.0 L881.6 764.4Z"/><path d="M380.8 324.7 L374.5 332.2 L365.8 339.7 L364.1 352.2 L366.6 364.6 L370.8 374.6 L380.8 375.9Z"/><path d="M234.3 336.0 L239.8 334.2 L242.3 339.7 L237.3 342.7Z"/><path d="M297.2 340.2 L301.7 339.2 L302.7 344.2 L298.2 345.2Z"/></g>
<g fill="#fddbc7"><path d="M396.4 237.8 L497.5 255.9 L499.2 269.0 L496.7 277.3 L493.4 283.8 L491.0 287.1 L495.1 291.2 L501.6 293.7 L507.4 294.5 L509.9 297.0 L513.2 301.9 L511.5 307.7 L514.0 311.8 L519.7 308.5 L527.9 307.7 L536.2 310.1 L542.7 313.4 L544.4 305.2 L551.0 302.7 L557.5 303.6 L559.2 308.5 L565.8 310.1 L574.0 306.8 L579.7 309.3 L581.4 313.4 L575.6 318.4 L569.0 323.3 L564.1 318.4 L559.2 315.1 L554.2 313.4 L549.3 309.3 L546.0 315.1 L544.4 321.6 L547.7 329.9 L551.0 336.4 L557.5 339.7 L564.1 344.7 L569.0 351.2 L572.3 346.3 L569.0 338.1 L571.5 333.2 L576.4 331.5 L579.7 336.4 L578.1 342.2 L574.0 343.0 L571.5 347.9 L575.6 352.9 L579.7 354.5 L581.4 357.8 L578.9 364.4 L575.6 372.6 L569.0 371.0 L560.8 369.3 L551.0 369.3 L541.1 367.7 L535.3 364.4 L533.7 357.8 L535.3 352.9 L529.6 348.8 L521.4 351.2 L511.5 352.9 L501.6 351.2 L495.1 346.3 L489.3 341.4 L486.8 334.8 L481.9 331.5 L475.3 333.2 L468.8 334.0 L460.5 331.5 L463.8 326.6 L464.7 321.6 L462.2 318.4 L465.5 313.4 L462.2 306.8 L457.3 302.7 L452.3 305.2 L449.9 311.8 L450.7 318.4 L453.2 323.3 L449.0 326.6 L442.5 328.2 L435.9 331.5 L431.0 334.0 L428.5 326.6 L424.4 321.6 L419.5 315.1 L418.6 310.1 L422.7 303.6 L427.7 300.3 L432.6 295.3 L435.9 287.1 L433.4 278.9 L429.3 272.3 L424.4 269.0 L419.5 269.9 L414.5 265.8 L411.2 259.2 L409.6 254.2 L404.7 249.3 L399.7 245.2Z"/><path d="M509.9 273.2 L516.4 271.5 L523.0 274.0 L525.5 280.5 L523.0 288.8 L518.1 295.3 L511.5 297.0 L509.0 292.1 L507.9 282.2Z"/><path d="M380.0 282.2 L384.9 285.5 L388.2 292.1 L393.2 294.5 L398.1 295.3 L400.5 300.3 L398.9 305.2 L403.0 311.8 L406.3 318.4 L407.9 326.6 L409.6 336.4 L407.1 343.0 L402.2 346.3 L401.4 339.7 L396.4 333.2 L389.9 326.6 L384.9 324.9 L382.5 321.6 L379.2 321.6Z"/><path d="M397.3 366.8 L403.0 364.4 L407.1 367.7 L411.2 371.8 L410.4 377.5 L404.7 380.8 L399.7 377.5 L396.4 372.6Z"/><path d="M436.7 354.5 L440.0 350.4 L445.8 349.9 L448.7 352.9 L447.4 358.6 L452.3 359.8 L458.9 362.7 L465.5 366.0 L469.6 371.0 L467.1 374.2 L462.2 376.7 L458.9 380.8 L441.2 380.8 L442.1 371.0 L439.2 366.0 L436.7 364.4 L435.6 359.5Z"/><path d="M584.7 350.4 L588.8 344.7 L593.7 343.0 L600.3 346.3 L601.1 350.9 L608.5 354.5 L613.4 359.5 L616.7 364.4 L613.4 371.0 L610.1 377.5 L606.8 380.8 L579.7 380.8 L581.4 364.4 L583.8 351.2Z"/><path d="M614.2 339.7 L616.7 337.8 L619.2 339.7 L618.4 343.0 L615.4 343.3Z"/><path d="M614.6 338.9 L617.4 338.1 L619.5 341.0 L617.4 343.8 L614.6 342.7Z"/><path d="M610.0 361.9 L614.9 360.3 L618.2 363.6 L615.8 369.3 L611.6 371.8 L609.2 369.3Z"/><path d="M750.5 328.2 L754.7 326.6 L756.3 331.5 L753.0 338.1 L750.5 334.0Z"/><path d="M351.9 405.8 L358.5 403.3 L365.1 404.9 L370.8 409.0 L370.8 417.3 L363.4 416.4 L356.8 414.8 L351.1 412.3Z"/><path d="M369.2 379.2 L383.2 379.2 L387.3 384.9 L386.4 390.7 L379.9 394.0 L373.3 392.3 L369.2 393.2Z"/><path d="M396.3 412.9 L398.8 404.7 L402.9 399.7 L409.5 401.4 L416.0 403.0 L424.2 400.5 L430.8 402.2 L434.1 406.3 L430.8 412.9 L424.2 418.6 L416.0 421.1 L407.8 419.5 L401.2 420.8 L396.3 418.6Z"/><path d="M437.1 426.0 L439.9 421.1 L442.3 426.4Z"/><path d="M442.3 379.2 L475.2 379.2 L473.6 384.9 L468.6 388.2 L465.3 393.2 L462.9 399.7 L460.4 404.7 L458.8 398.1 L459.6 391.5 L453.8 389.0 L447.3 391.5 L443.2 396.4 L441.5 389.9Z"/><path d="M492.5 381.6 L498.2 380.0 L501.5 388.2 L500.7 395.6 L497.4 389.9 L493.3 386.6Z"/><path d="M534.4 379.2 L559.0 379.2 L562.3 388.2 L561.5 398.1 L557.4 407.9 L550.8 414.5 L544.2 411.2 L539.3 404.7 L536.0 396.4 L533.6 388.2Z"/><path d="M559.0 421.1 L565.6 418.6 L572.2 419.5 L575.5 422.7 L571.4 426.0 L564.0 426.8 L559.9 425.2Z"/><path d="M580.4 379.2 L610.8 379.2 L610.8 394.8 L606.7 395.6 L603.4 391.5 L596.8 389.9 L588.6 389.0 L582.1 386.6Z"/><path d="M577.9 422.7 L583.7 417.8 L590.3 412.9 L596.8 412.1 L600.1 417.8 L601.8 426.0 L596.8 429.3 L587.0 428.5 L577.9 427.7Z"/><path d="M563.2 457.3 L566.4 450.7 L572.2 450.7 L577.1 457.3 L582.1 458.9 L587.0 453.2 L591.1 452.3 L595.2 458.9 L597.7 465.5 L593.6 467.1 L590.3 472.1 L590.3 478.6 L585.3 483.6 L578.8 481.9 L573.8 473.7 L569.7 467.1 L564.8 463.8Z"/><path d="M369.2 447.4 L374.9 450.7 L378.2 458.9 L378.2 468.8 L374.1 475.3 L369.2 477.0Z"/><path d="M377.4 488.5 L381.5 482.7 L388.1 478.6 L394.7 474.5 L402.9 475.3 L407.0 480.3 L402.9 485.2 L397.9 491.8 L394.7 488.5 L391.4 493.4 L393.0 500.0 L397.9 506.6 L399.6 511.5 L394.7 514.8 L388.1 519.7 L381.5 516.4 L376.6 509.9 L377.4 500.0Z"/><path d="M422.6 477.0 L425.1 471.2 L428.4 474.5 L425.9 479.5Z"/><path d="M567.3 518.1 L573.8 513.5 L580.4 514.8 L585.3 521.4 L587.8 527.9 L583.7 535.3 L575.5 539.5 L567.3 538.6 L563.6 531.2 L564.8 523.0Z"/><path d="M601.5 497.5 L605.1 495.9 L607.5 498.4 L605.1 501.3 L601.8 500.3Z"/><path d="M515.0 546.0 L518.8 545.2 L520.4 548.5 L516.3 549.3Z"/><path d="M609.2 389.0 L614.1 389.9 L614.9 394.0 L611.6 396.4 L609.2 395.6Z"/><path d="M174.4 519.2 L192.5 519.2 L190.8 524.9 L185.9 529.9 L181.0 529.0 L178.5 524.1Z"/><path d="M202.3 529.9 L207.3 526.6 L213.8 528.2 L218.8 534.8 L221.2 543.0 L224.5 548.8 L228.6 552.9 L233.6 561.1 L236.8 569.3 L235.2 577.5 L232.7 585.8 L235.2 590.7 L230.3 594.0 L225.3 590.7 L223.7 582.5 L221.2 574.2 L218.8 567.7 L214.7 562.7 L216.3 554.5 L213.8 547.9 L208.9 543.0 L204.8 536.4Z"/><path d="M188.4 552.9 L190.8 547.9 L195.8 550.4 L202.3 554.5 L208.9 558.6 L212.2 563.6 L208.9 569.3 L204.0 572.6 L199.0 575.9 L194.1 579.2 L190.8 574.2 L187.5 567.7 L185.9 560.3Z"/><path d="M250.0 519.2 L273.0 519.2 L271.4 526.6 L266.4 533.2 L259.9 536.4 L254.1 533.2 L250.0 526.6Z"/><path d="M295.2 519.2 L321.5 519.2 L322.3 526.6 L317.4 533.2 L310.8 538.1 L304.2 534.8 L298.5 529.9 L295.2 524.9Z"/><path d="M261.5 580.8 L266.4 576.7 L273.0 572.6 L277.9 567.7 L282.1 561.1 L286.2 555.3 L291.9 552.1 L295.2 557.8 L296.0 564.4 L301.8 567.7 L304.2 572.6 L301.0 577.5 L294.4 579.2 L286.2 576.7 L281.2 580.8 L274.7 585.8 L268.1 586.6 L262.3 584.1Z"/><path d="M266.4 623.6 L268.9 620.3 L271.4 623.6 L269.4 626.8Z"/><path d="M424.2 573.2 L430.8 567.4 L439.0 564.9 L447.3 566.6 L453.0 571.5 L453.8 579.7 L453.0 587.9 L455.5 596.2 L460.4 602.7 L467.0 606.8 L471.9 612.6 L470.3 620.8 L463.7 626.6 L457.1 624.1 L450.5 620.8 L444.0 615.9 L435.8 611.0 L429.2 604.4 L424.2 596.2 L422.3 586.3 L422.6 578.1Z"/><path d="M457.1 569.9 L460.4 564.9 L465.3 565.8 L464.5 571.5 L460.4 574.8Z"/><path d="M379.0 594.5 L383.2 592.1 L388.1 595.3 L388.4 600.3 L384.0 601.9 L379.9 599.5Z"/><path d="M411.9 609.3 L417.7 606.8 L424.2 609.3 L425.9 613.4 L421.0 616.7 L415.2 616.7 L411.9 613.4Z"/><path d="M395.0 626.6 L397.9 623.8 L400.4 626.6 L397.9 629.0Z"/><path d="M492.5 601.1 L494.9 593.7 L499.9 590.4 L504.0 594.5 L505.6 601.1 L502.3 607.7 L498.2 612.6 L493.3 610.1 L490.3 605.2Z"/><path d="M517.9 579.7 L523.7 576.4 L530.3 578.1 L536.0 583.8 L534.4 591.2 L531.9 597.8 L527.0 602.7 L522.1 599.5 L520.4 592.1 L517.6 586.3Z"/><path d="M512.2 609.3 L515.5 606.8 L518.8 610.1 L518.8 615.1 L514.7 616.7 L511.7 613.4Z"/><path d="M548.4 600.3 L551.6 597.0 L555.8 601.1 L557.4 606.8 L554.1 610.1 L550.8 605.2Z"/><path d="M769.5 713.7 L774.4 711.6 L779.3 714.5 L780.1 722.7 L776.0 726.0 L771.9 724.4 L769.8 719.5Z"/><path d="M741.5 740.8 L742.3 731.0 L746.4 726.0 L754.7 723.1 L762.9 723.6 L767.8 726.8 L772.7 729.3 L779.3 731.8 L781.8 735.9 L783.4 740.8Z"/><path d="M625.6 592.9 L630.5 590.4 L634.7 593.7 L632.2 599.5 L628.1 601.1 L625.6 597.8Z"/><path d="M660.1 592.1 L663.4 588.3 L667.9 591.2 L666.7 596.2 L661.8 597.0Z"/><path d="M645.2 780.0 L651.0 785.8 L659.2 789.0 L665.8 794.8 L672.3 802.2 L677.3 808.8 L685.5 814.5 L690.4 818.6 L693.7 825.2 L698.6 818.6 L705.2 815.3 L713.4 815.3 L720.8 818.6 L720.8 831.8 L716.7 835.1 L711.8 840.0 L707.7 844.9 L703.6 851.5 L701.1 858.1 L698.6 864.7 L701.1 872.9 L704.4 884.4 L706.5 896.7 L701.1 900.0 L695.3 898.4 L687.1 895.9 L678.9 893.4 L672.3 891.0 L665.8 887.7 L660.0 883.6 L656.7 877.8 L653.4 871.2 L651.0 864.7 L649.3 856.4 L644.4 849.9 L638.6 841.6 L633.7 835.1 L630.4 827.7 L627.1 820.3 L624.7 813.7 L625.5 805.5 L628.8 797.3 L632.9 789.0 L639.5 784.1Z"/><path d="M698.6 746.3 L703.6 743.3 L708.5 745.5 L706.8 749.6 L700.3 750.4Z"/><path d="M741.9 733.2 L746.0 726.6 L755.9 723.3 L765.8 724.9 L772.3 731.5 L778.9 733.2 L777.3 741.4 L772.3 747.9 L765.8 752.9 L759.2 752.1 L752.6 747.9 L744.4 746.3 L741.4 739.7Z"/><path d="M772.3 719.2 L780.5 719.2 L781.4 729.0 L776.4 729.9 L773.2 725.8Z"/><path d="M699.2 744.7 L706.6 743.3 L708.2 747.1 L703.3 749.6 L699.2 749.3Z"/><path d="M774.8 785.8 L777.3 780.0 L783.8 777.5 L789.6 775.1 L797.0 772.6 L803.6 775.1 L807.2 781.6 L805.2 789.0 L800.3 794.0 L792.1 795.6 L785.5 795.9 L778.9 794.8 L774.3 791.5Z"/><path d="M699.2 816.2 L708.2 815.3 L716.4 817.8 L720.5 821.9 L718.1 828.5 L721.4 831.8 L716.4 836.7 L709.9 841.6 L707.4 846.6 L703.3 854.8 L699.2 856.4Z"/><path d="M284.7 497.3 L299.6 507.3 L312.1 512.3 L322.2 519.8 L322.2 520.8 L284.5 520.8 L287.8 515.9 L294.4 511.0 L292.7 504.4 L287.8 499.5Z"/></g>
<g fill="#ef8a62"><path d="M447.4 255.1 L452.3 253.4 L464.7 255.9 L465.5 259.2 L461.4 264.9 L457.3 267.4 L452.3 272.3 L449.0 268.2 L444.9 264.9 L444.1 260.0Z"/><path d="M494.2 313.4 L498.4 315.1 L501.3 318.4 L497.5 319.7 L494.7 317.0Z"/><path d="M651.8 846.6 L655.9 838.4 L662.5 832.6 L669.0 831.0 L677.3 833.4 L683.0 840.0 L685.2 848.2 L683.8 856.4 L679.7 863.8 L672.3 868.8 L664.1 870.4 L656.7 870.4 L652.6 864.7 L651.0 856.4Z"/><path d="M691.2 826.8 L693.7 822.7 L696.2 826.8 L694.5 831.8 L691.2 830.1Z"/><path d="M681.4 878.1 L683.5 877.8 L683.8 884.1 L681.9 884.4Z"/></g>
<g fill="#f7f7f7"><path d="M214.6 212.3 L220.7 216.7 L222.7 223.3 L224.0 230.7 L223.2 238.9 L227.3 245.5 L235.5 252.1 L244.5 256.2 L245.3 261.9 L241.2 266.8 L232.2 269.3 L227.3 265.2 L224.0 258.6 L220.7 253.7 L217.7 257.0 L220.7 265.2 L225.6 273.4 L223.2 278.4 L222.3 282.5 L215.8 283.3 L209.5 282.5 L210.2 273.4 L209.5 269.3 L212.5 265.2 L213.3 258.6 L214.9 249.6 L213.8 245.5 L214.4 237.3 L213.8 229.0 L212.5 222.5 L213.3 216.7Z"/><path d="M216.6 301.7 L219.4 301.0 L220.4 303.8 L217.7 305.5Z"/><path d="M247.0 324.4 L250.6 323.6 L251.6 329.3 L248.3 330.1Z"/><path d="M206.2 329.6 L208.8 329.0 L209.2 332.3 L206.7 332.6Z"/><path d="M225.9 285.8 L228.1 285.3 L228.6 289.0 L226.4 289.5Z"/><path d="M975.6 410.8 L976.4 402.6 L979.7 401.0 L983.0 396.0 L987.9 391.9 L993.7 390.3 L997.0 396.0 L1000.3 402.6 L1002.7 410.8Z"/><path d="M925.5 390.3 L931.2 389.5 L932.1 395.2 L926.3 396.0Z"/><path d="M978.9 368.1 L981.7 367.3 L982.7 377.9 L979.7 377.9Z"/><path d="M197.4 414.8 L200.7 409.9 L204.8 408.2 L208.1 411.5 L206.4 416.4 L200.7 417.6Z"/><path d="M216.8 451.0 L220.4 450.1 L225.3 453.4 L228.6 455.9 L225.3 459.2 L220.4 458.4 L217.9 455.1Z"/><path d="M261.5 458.4 L264.8 451.8 L269.7 445.2 L274.7 441.9 L280.4 442.7 L283.7 448.5 L283.7 455.1 L280.4 461.6 L276.3 467.4 L269.7 469.0 L264.0 465.8 L261.2 461.6Z"/><path d="M976.4 399.2 L976.4 406.6 L969.9 409.9 L963.3 412.3 L958.4 416.4 L953.4 414.0 L946.8 413.2 L941.9 418.1 L940.3 424.7 L935.3 429.6 L933.7 437.8 L934.5 444.4 L938.6 441.1 L945.2 438.6 L946.8 432.1 L953.4 428.8 L960.0 429.6 L956.7 435.3 L953.4 442.7 L950.1 449.3 L951.8 456.7 L953.4 462.5 L950.1 469.0 L945.2 475.6 L944.4 485.5 L945.2 493.7 L941.9 501.9 L938.6 509.3 L933.7 511.8 L927.1 508.5 L922.2 501.9 L917.3 497.0 L912.3 496.2 L907.4 494.5 L901.6 494.5 L897.5 498.6 L898.4 505.2 L902.5 511.8 L905.8 520.0 L909.0 529.9 L908.2 536.4 L905.8 543.0 L903.3 551.2 L899.2 556.2 L895.9 564.4 L889.3 562.7 L881.1 561.9 L875.3 564.4 L874.5 571.0 L877.0 575.9 L882.7 580.8 L1080.8 580.8 L1080.8 399.2Z"/><path d="M843.4 587.9 L847.5 586.3 L850.8 588.8 L850.8 594.5 L845.1 593.7Z"/><path d="M827.8 629.0 L832.7 625.4 L840.1 629.0 L846.7 634.0 L850.8 637.3 L850.8 648.8 L846.7 653.7 L841.8 651.2 L836.8 645.5 L831.9 640.5 L828.6 634.8Z"/><path d="M874.5 559.2 L875.3 566.6 L874.5 574.8 L871.2 583.0 L869.3 591.2 L869.6 601.1 L872.9 609.3 L878.6 607.7 L883.6 602.7 L884.4 595.3 L889.3 591.2 L895.9 592.9 L904.1 592.1 L909.0 592.1 L909.9 600.8 L944.4 598.1 L945.2 604.4 L947.7 611.0 L946.8 617.5 L951.8 620.8 L958.4 622.5 L964.9 624.9 L969.9 629.0 L971.5 634.0 L978.1 635.9 L984.7 633.2 L988.8 629.9 L991.2 634.0 L987.9 638.9 L984.7 642.2 L983.0 644.7 L978.1 644.7 L974.0 643.0 L969.9 642.2 L966.9 643.0 L958.4 647.1 L953.4 652.1 L953.4 660.3 L955.9 668.5 L960.0 675.1 L966.6 678.4 L974.8 677.5 L978.9 673.4 L984.7 666.8 L989.6 662.7 L997.8 663.6 L1006.0 665.2 L1014.2 666.0 L1020.8 662.7 L1025.8 665.2 L1029.0 673.4 L1027.4 678.4 L1020.8 684.9 L1012.6 688.2 L1007.7 691.5 L1002.7 696.4 L996.2 699.7 L989.6 704.7 L988.8 707.9 L983.0 709.6 L976.4 712.9 L968.2 714.5 L958.4 716.2 L953.4 719.5 L951.0 726.0 L949.3 732.6 L946.8 740.8 L1080.8 740.8 L1080.8 559.2Z"/><path d="M904.1 592.9 L909.0 592.1 L910.7 601.1 L912.3 609.3 L910.7 617.5 L908.2 625.8 L905.8 632.3 L899.2 632.3 L894.2 630.7 L897.5 624.1 L900.8 617.5 L903.3 609.3 L903.3 601.1Z"/><path d="M843.0 588.8 L846.6 586.3 L849.5 590.4 L847.4 593.7 L843.6 592.9Z"/><path d="M839.2 633.2 L844.9 632.3 L849.0 638.9 L849.9 647.1 L844.9 653.7 L839.2 652.9Z"/><path d="M856.4 669.3 L861.4 665.2 L869.6 663.9 L876.2 666.0 L881.1 670.1 L878.6 673.4 L871.2 674.2 L863.0 673.4 L857.3 672.6Z"/><path d="M893.9 669.3 L896.7 666.8 L898.4 669.8 L895.9 671.8Z"/><path d="M934.2 754.5 L940.8 753.7 L940.8 771.8 L936.7 772.3 L936.7 762.7Z"/><path d="M1060.0 390.0 L1320.0 390.0 L1320.0 800.0 L1060.0 800.0Z"/><path d="M1075.0 200.0 L1320.0 200.0 L1320.0 392.0 L1075.0 392.0Z"/><path d="M940.0 735.0 L1180.0 735.0 L1180.0 790.0 L940.0 790.0Z"/></g>
<g fill="#fddbc7"><path d="M1222.5 265.8 L1228.6 268.2 L1234.8 269.5 L1241.0 270.1 L1247.1 271.9 L1251.4 270.7 L1253.3 275.6 L1257.0 279.3 L1259.5 284.2 L1263.2 289.2 L1268.1 294.1 L1274.2 299.0 L1280.4 304.0 L1285.3 307.1 L1290.3 307.1 L1291.5 299.0 L1277.9 283.0 L1268.1 274.4 L1260.7 247.3 L1245.9 241.7 L1228.6 243.6 L1223.7 260.8Z"/><path d="M924.7 531.5 L928.8 526.6 L932.1 520.0 L936.2 520.8 L939.5 525.8 L937.0 529.9 L931.2 533.2 L927.1 535.6Z"/><path d="M984.7 465.8 L987.9 460.8 L992.1 463.3 L992.1 470.7 L987.9 475.6 L983.0 477.3 L981.4 482.2 L978.1 487.1 L973.2 490.4 L969.0 487.1 L968.2 478.9 L973.2 476.4 L978.1 475.6 L981.4 472.3Z"/><path d="M941.1 580.8 L945.2 575.9 L951.8 575.1 L952.6 580.8Z"/><path d="M1070.0 602.9 L1076.6 600.4 L1079.9 602.9 L1074.9 605.3 L1070.0 605.8Z"/><path d="M917.3 586.3 L922.2 582.2 L932.1 579.7 L941.9 577.3 L950.1 574.8 L955.1 578.1 L962.5 580.5 L961.6 589.6 L955.1 592.9 L946.8 595.3 L938.6 597.0 L928.8 598.1 L918.9 599.5 L917.3 592.9Z"/><path d="M972.3 622.5 L976.4 619.2 L981.4 616.7 L986.3 615.1 L988.8 617.5 L986.3 621.6 L979.7 623.3 L974.8 624.4Z"/><path d="M1061.9 607.7 L1066.8 603.6 L1075.1 601.1 L1080.8 601.1 L1080.8 606.0 L1073.4 607.7 L1066.8 611.0 L1062.2 612.3Z"/><path d="M1039.2 635.9 L1043.0 634.8 L1045.5 637.3 L1041.4 638.9Z"/><path d="M875.3 569.9 L882.7 566.6 L889.3 568.2 L887.7 576.4 L881.1 578.1Z"/><path d="M1069.2 602.5 L1076.6 600.8 L1079.9 603.3 L1074.9 605.8 L1069.2 605.8Z"/><path d="M929.2 719.2 L950.5 719.2 L948.9 729.9 L945.6 739.7 L941.5 747.9 L938.2 752.9 L933.3 754.8 L935.8 761.1 L937.4 769.3 L929.2 773.4Z"/></g>
<g fill="#d1e5f0"><path d="M211.2 275.1 L214.9 274.7 L215.8 277.5 L212.5 278.7Z"/><path d="M1161.2 336.8 L1165.3 333.1 L1171.1 330.3 L1204.0 321.6 L1206.4 331.1 L1206.1 334.4 L1201.5 341.0 L1198.2 345.9 L1191.6 348.4 L1186.7 349.2 L1182.6 345.1 L1178.5 342.6 L1175.2 344.2 L1171.9 341.0 L1168.6 345.9 L1167.0 350.8 L1163.7 353.3 L1162.1 350.8 L1164.5 346.7 L1163.7 341.8Z"/><path d="M1205.6 314.7 L1212.2 311.4 L1216.3 321.2 L1224.5 318.8 L1222.9 324.5 L1217.9 329.5 L1214.7 337.7 L1209.7 345.9 L1206.4 344.2 L1203.2 345.9 L1201.5 341.0 L1206.1 334.4 L1204.5 321.2Z"/><path d="M1183.4 359.0 L1186.7 356.6 L1188.7 360.7 L1186.7 365.6 L1183.4 364.8Z"/><path d="M1222.9 341.0 L1227.8 350.8 L1231.9 355.8 L1236.0 359.0 L1235.2 367.3 L1231.9 370.5 L1227.8 368.9 L1223.7 362.3 L1222.1 355.8 L1223.7 347.5Z"/><path d="M1201.0 382.1 L1206.4 375.5 L1213.0 373.8 L1217.9 377.1 L1227.8 379.6 L1231.9 375.5 L1233.6 373.8 L1236.0 377.1 L1239.3 379.6 L1236.0 383.7 L1234.4 388.6 L1239.3 391.9 L1244.2 398.5 L1247.5 403.4 L1246.7 405.1 L1241.0 410.8 L1236.0 413.3 L1231.9 411.6 L1227.8 416.6 L1225.3 417.4 L1222.9 418.2 L1214.7 421.5 L1206.4 424.8 L1198.2 429.7 L1192.5 433.0 L1191.6 419.9 L1194.9 418.2 L1201.5 414.9 L1209.7 411.6 L1210.5 407.5 L1214.7 405.1 L1221.2 401.8 L1216.3 398.5 L1208.1 396.8 L1201.5 399.3 L1196.6 395.2 L1191.6 391.9 L1194.9 389.5 L1201.0 387.0Z"/><path d="M1148.9 391.9 L1153.8 387.0 L1160.4 387.0 L1165.3 391.9 L1168.6 396.8 L1175.2 403.4 L1181.8 408.4 L1185.1 414.9 L1185.9 421.5 L1185.1 429.7 L1183.4 434.7 L1178.5 433.0 L1176.8 426.4 L1175.2 418.2 L1171.9 411.6 L1167.0 405.1 L1158.8 403.4 L1152.2 400.1 L1149.7 396.0Z"/><path d="M1191.6 437.1 L1201.5 433.0 L1209.7 430.5 L1204.8 437.9 L1198.2 442.1 L1192.5 443.7Z"/><path d="M1256.4 312.0 L1258.8 310.8 L1260.1 312.6 L1257.6 313.8Z"/><path d="M974.0 520.0 L979.7 513.4 L986.3 508.5 L992.9 510.1 L997.8 515.1 L1004.4 508.5 L1012.6 504.4 L1020.8 501.9 L1026.6 505.2 L1025.8 511.8 L1019.2 516.7 L1012.6 520.0 L1007.7 524.9 L1011.0 529.9 L1004.4 530.7 L999.5 524.9 L994.5 529.9 L987.9 528.2 L981.4 524.9 L974.8 524.9Z"/><path d="M1040.5 493.7 L1043.8 487.1 L1050.4 482.2 L1053.7 485.5 L1053.7 495.3 L1058.6 498.6 L1057.0 505.2 L1050.4 505.2 L1045.5 501.1 L1041.4 498.6Z"/><path d="M1057.8 462.5 L1061.9 459.2 L1068.5 460.8 L1073.4 463.3 L1070.1 466.6 L1061.9 466.6Z"/><path d="M1066.8 488.8 L1071.8 484.7 L1078.4 486.3 L1080.8 492.1 L1073.4 495.3 L1067.7 493.7Z"/><path d="M1053.7 498.6 L1058.6 498.6 L1080.8 497.0 L1080.8 515.1 L1076.7 521.6 L1070.1 518.4 L1065.2 523.3 L1060.3 526.6 L1058.6 521.6 L1063.6 515.1 L1066.8 508.5 L1060.3 505.2Z"/><path d="M1029.0 556.2 L1034.0 549.6 L1042.2 544.7 L1048.8 546.3 L1053.7 552.9 L1057.0 559.5 L1052.1 564.4 L1043.8 569.3 L1036.4 565.2 L1030.7 571.0 L1024.1 577.5 L1017.5 574.2 L1015.9 566.0 L1019.2 561.1 L1025.8 557.8Z"/><path d="M1014.2 460.0 L1018.4 459.2 L1019.2 462.5 L1015.1 463.3Z"/><path d="M1119.3 543.7 L1124.2 539.6 L1130.8 537.9 L1137.4 539.6 L1142.3 543.7 L1147.3 548.6 L1152.2 555.2 L1155.5 560.1 L1150.5 563.4 L1144.0 565.1 L1137.4 565.1 L1132.5 561.8 L1127.5 555.2 L1122.6 548.6Z"/><path d="M1081.5 538.8 L1084.8 532.2 L1091.4 530.5 L1095.5 533.8 L1093.0 542.1 L1088.1 547.0 L1082.3 545.3Z"/><path d="M1069.2 485.3 L1076.6 486.2 L1081.5 491.1 L1080.7 497.7 L1082.3 508.4 L1086.4 512.5 L1086.4 519.0 L1079.9 524.0 L1073.3 522.3 L1069.2 519.0Z"/><path d="M1138.2 468.9 L1141.5 467.3 L1144.0 470.5 L1141.5 473.0 L1138.7 472.2Z"/><path d="M1134.9 606.2 L1139.0 601.2 L1145.6 600.4 L1151.4 604.5 L1148.9 610.3 L1144.0 613.6 L1137.4 611.9Z"/><path d="M1093.8 621.0 L1098.8 616.4 L1104.5 618.5 L1107.0 624.2 L1105.3 630.8 L1096.3 630.8Z"/><path d="M1168.6 589.7 L1172.7 583.2 L1178.5 583.5 L1175.2 589.7 L1171.9 596.3 L1167.8 597.1Z"/><path d="M1016.7 564.9 L1020.8 560.8 L1029.0 560.0 L1037.3 563.3 L1032.3 568.2 L1025.8 571.5 L1019.2 569.9Z"/><path d="M1037.3 559.2 L1063.6 559.2 L1058.6 564.1 L1052.1 565.8 L1043.8 566.6Z"/><path d="M1038.9 586.3 L1045.5 588.8 L1042.2 597.8 L1037.3 607.7 L1033.2 609.3 L1034.8 601.1 L1037.3 592.9Z"/><path d="M997.0 632.3 L1002.7 626.6 L1009.3 628.2 L1011.0 633.2 L1004.4 636.4 L996.5 637.3Z"/><path d="M1071.8 681.6 L1075.1 673.4 L1080.8 670.1 L1080.8 691.5 L1075.1 689.9Z"/><path d="M1054.5 711.2 L1058.6 706.3 L1066.8 705.5 L1073.4 711.2 L1076.7 719.5 L1075.1 727.7 L1070.1 733.4 L1061.9 731.8 L1056.2 724.4 L1053.7 717.0Z"/><path d="M1134.9 606.6 L1139.0 600.8 L1147.3 600.0 L1151.4 604.9 L1148.9 611.5 L1142.3 614.0 L1135.8 611.5Z"/><path d="M1093.8 623.0 L1097.9 617.3 L1104.5 618.1 L1108.6 624.7 L1106.2 632.9 L1101.2 635.3 L1095.5 629.6Z"/><path d="M1125.1 644.4 L1127.5 639.5 L1134.1 638.1 L1139.0 641.9 L1135.8 646.0 L1127.5 648.0Z"/><path d="M1072.5 682.2 L1076.6 674.0 L1083.2 667.4 L1089.7 660.0 L1093.8 660.8 L1094.7 669.0 L1096.3 677.3 L1094.7 685.5 L1088.1 691.2 L1079.9 692.1 L1073.3 689.6Z"/><path d="M1069.2 718.4 L1076.6 718.4 L1075.8 731.5 L1075.3 739.7 L1075.8 744.7 L1079.0 756.2 L1083.2 766.0 L1088.1 774.2 L1091.4 780.8 L1069.2 780.8Z"/><path d="M1078.2 698.6 L1084.0 697.0 L1086.4 701.9 L1081.5 706.8Z"/><path d="M1054.9 719.2 L1059.9 724.1 L1062.3 731.5 L1061.5 739.7 L1058.2 746.3 L1051.6 750.4 L1043.4 753.7 L1036.8 759.5 L1034.4 766.0 L1033.6 774.2 L1034.4 780.0 L1028.6 785.8 L1045.1 900.8 L1143.7 900.8 L1143.7 719.2Z"/><path d="M1150.3 500.2 L1152.8 493.2 L1156.3 490.1 L1162.3 486.6 L1164.8 491.1 L1167.9 495.7 L1171.4 499.7 L1174.4 503.2 L1175.9 507.2 L1177.4 511.2 L1177.9 514.2 L1177.4 519.3 L1175.9 525.3 L1174.4 530.3 L1171.9 536.3 L1169.4 542.4 L1167.4 547.4 L1166.8 549.9 L1165.8 545.4 L1165.3 540.4 L1166.3 534.3 L1167.9 529.3 L1169.4 525.8 L1165.3 526.8 L1163.8 524.3 L1161.3 521.3 L1159.3 518.8 L1156.3 519.3 L1155.3 514.7 L1154.3 512.2 L1152.3 509.2 L1150.3 505.2Z"/></g>
<g fill="#67a9cf"><path d="M1116.6 879.5 L1119.9 877.8 L1122.3 880.3 L1120.7 883.6 L1117.1 882.7Z"/></g>
<g fill="#b2182b"><path d="M469.6 349.6 L474.5 347.1 L478.6 347.9 L479.5 354.5 L485.2 356.2 L489.3 358.6 L488.5 362.7 L483.6 365.2 L481.1 369.3 L475.3 371.0 L470.4 369.3 L469.6 362.7 L471.2 357.8 L467.1 352.9Z"/><path d="M414.5 355.3 L419.5 354.5 L420.3 360.3 L417.8 366.0 L415.3 364.4 L413.7 358.6Z"/><path d="M495.1 357.5 L497.5 357.0 L500.0 360.3 L497.5 361.1Z"/><path d="M262.8 489.6 L265.6 487.9 L269.7 488.8 L270.5 492.1 L266.4 492.9 L263.2 492.1Z"/><path d="M373.3 437.5 L376.6 432.6 L383.2 431.0 L389.7 434.2 L392.2 440.0 L389.7 445.8 L388.9 454.0 L384.0 453.2 L378.2 449.0 L374.1 444.1Z"/><path d="M381.2 408.8 L384.0 406.3 L386.4 410.4 L384.8 414.5 L382.3 412.1Z"/><path d="M513.0 379.2 L517.9 379.2 L518.8 386.6 L516.3 391.5 L513.0 394.8 L511.4 388.2Z"/><path d="M513.0 417.8 L518.8 418.6 L524.5 421.1 L522.9 424.4 L517.1 421.9Z"/><path d="M526.2 429.3 L531.9 427.7 L532.7 431.0 L528.6 435.1 L525.3 433.4Z"/><path d="M473.6 426.8 L477.7 424.4 L480.1 427.7 L481.8 434.2 L486.7 440.0 L493.3 440.0 L499.9 437.5 L504.8 441.6 L508.1 449.0 L511.4 454.0 L506.4 457.3 L498.2 456.4 L491.6 458.9 L487.5 460.5 L483.4 465.5 L479.3 469.6 L481.8 473.7 L480.1 478.6 L475.2 481.9 L468.6 482.7 L468.3 472.9 L462.1 471.2 L455.5 469.6 L457.1 467.9 L465.3 468.8 L471.9 465.5 L478.5 466.3 L483.4 462.2 L486.7 457.3 L487.5 452.3 L485.1 449.0 L480.1 445.8 L477.7 440.8 L475.2 435.9 L472.7 431.0Z"/><path d="M454.7 472.1 L462.1 472.9 L468.3 474.5 L467.0 485.2 L468.6 490.1 L475.2 487.7 L481.8 489.3 L484.2 495.1 L483.4 504.9 L480.1 513.2 L475.2 518.1 L470.3 523.0 L467.0 529.6 L462.1 530.4 L458.8 527.9 L455.5 523.0 L450.5 518.1 L444.0 516.4 L437.4 519.7 L432.5 524.7 L430.0 531.2 L430.8 537.8 L432.5 542.7 L428.4 546.8 L425.1 541.1 L424.2 532.9 L425.1 524.7 L428.4 517.3 L434.1 513.2 L442.3 511.5 L448.9 508.2 L453.8 503.3 L459.6 500.0 L462.1 495.1 L461.2 486.8 L459.6 480.3 L457.1 476.2Z"/><path d="M487.5 481.9 L492.5 481.1 L497.9 485.2 L496.6 490.1 L492.5 493.4 L489.2 488.5Z"/><path d="M443.2 551.0 L447.3 546.0 L453.8 543.6 L459.6 544.4 L460.4 551.0 L452.2 551.8 L446.4 553.4Z"/><path d="M473.6 539.5 L476.8 535.3 L480.5 538.6 L477.7 542.7 L474.4 541.9Z"/><path d="M490.8 541.9 L496.6 537.8 L501.5 540.3 L503.2 545.2 L499.9 550.1 L494.1 551.0 L490.8 546.8Z"/><path d="M534.4 457.3 L537.7 451.5 L544.2 449.0 L550.8 450.7 L555.8 455.6 L559.0 463.8 L561.5 472.1 L566.4 478.6 L569.7 485.2 L568.9 493.4 L563.2 495.9 L561.5 503.3 L555.8 508.2 L547.5 511.5 L542.6 514.8 L538.5 517.3 L535.2 513.2 L537.7 506.6 L541.0 501.6 L535.2 500.0 L536.0 493.4 L532.7 486.8 L534.4 481.9 L536.0 475.3 L536.8 467.1 L535.2 462.2Z"/><path d="M518.8 482.7 L523.7 480.3 L527.8 483.6 L532.7 488.5 L530.3 491.8 L525.3 491.0 L522.1 486.8Z"/><path d="M522.1 502.5 L526.2 500.8 L528.6 504.9 L525.3 509.9 L522.1 507.4Z"/><path d="M536.0 523.0 L541.0 518.9 L547.5 521.4 L550.8 527.9 L555.8 531.2 L559.9 537.8 L559.0 546.0 L552.5 551.0 L544.2 554.2 L537.7 549.3 L536.0 544.4 L540.1 537.8 L538.5 531.2 L533.6 527.9Z"/><path d="M560.7 560.8 L563.2 552.6 L568.9 551.0 L572.2 553.4 L569.7 560.8Z"/><path d="M619.0 421.9 L621.5 421.1 L624.0 424.4 L628.9 426.0 L629.4 428.5 L625.6 427.7 L624.0 429.3 L621.5 426.0Z"/><path d="M329.7 551.2 L335.5 549.6 L343.7 552.9 L347.8 557.0 L347.0 561.9 L341.2 561.1 L335.5 558.6 L331.4 555.3Z"/><path d="M343.7 584.1 L348.6 580.0 L356.8 579.2 L362.6 584.1 L363.4 590.7 L360.1 597.3 L365.1 600.5 L370.8 602.2 L370.8 612.1 L365.1 615.3 L361.8 620.3 L363.4 626.8 L367.5 633.4 L370.8 641.6 L370.8 700.8 L350.3 700.8 L353.6 691.0 L356.8 682.7 L355.2 674.5 L348.6 667.9 L342.1 663.0 L335.5 658.1 L331.4 651.5 L333.0 643.3 L333.8 633.4 L333.0 623.6 L330.5 615.3 L327.3 608.8 L329.7 603.8 L335.5 602.2 L335.5 595.6 L333.8 590.7 L337.9 588.2 L342.1 585.8Z"/><path d="M210.5 598.9 L215.5 597.3 L220.4 599.7 L217.1 603.8 L212.2 605.5 L209.7 602.2Z"/><path d="M207.3 587.1 L211.4 586.6 L210.9 589.0 L207.6 589.0Z"/><path d="M220.4 606.3 L224.5 605.5 L227.0 609.6 L223.7 612.1 L220.7 609.6Z"/><path d="M234.4 629.3 L239.3 627.7 L241.8 623.6 L244.2 628.5 L246.7 633.4 L247.5 639.2 L243.4 635.1 L238.5 630.5Z"/><path d="M255.8 631.8 L258.2 629.3 L261.5 633.4 L263.2 637.5 L259.9 640.0 L255.8 637.5Z"/><path d="M252.0 644.9 L255.8 642.5 L258.2 644.9 L257.4 649.0 L253.3 648.2Z"/><path d="M274.7 646.6 L277.9 647.4 L282.9 651.5 L287.0 655.6 L284.5 656.4 L278.8 652.3Z"/><path d="M288.6 654.8 L294.4 653.2 L302.6 651.5 L308.4 654.0 L312.5 658.1 L314.9 663.0 L319.0 662.2 L321.5 665.5 L317.4 670.4 L314.9 673.7 L307.5 673.7 L300.1 672.9 L301.0 667.9 L302.6 663.0 L299.3 658.9 L292.7 657.3Z"/><path d="M266.4 662.2 L269.7 661.4 L274.7 664.7 L280.4 668.8 L277.9 670.4 L272.2 667.9 L268.1 665.5Z"/><path d="M391.4 564.9 L397.1 562.5 L402.9 568.2 L410.3 572.3 L411.1 578.1 L408.6 583.0 L405.3 586.3 L402.9 579.7 L397.9 578.9 L393.0 581.4 L391.0 573.2Z"/><path d="M369.2 646.3 L376.6 647.1 L383.2 652.1 L389.7 657.0 L386.4 665.2 L388.1 671.8 L391.4 680.0 L392.2 688.2 L396.3 694.8 L402.9 698.9 L408.6 703.0 L410.3 709.6 L416.8 714.5 L419.3 720.3 L416.8 726.0 L416.0 731.8 L386.4 726.8 L369.2 717.8Z"/><path d="M421.8 722.7 L423.4 717.0 L429.2 715.3 L433.8 716.2 L433.3 720.3 L427.5 721.1 L424.2 724.4Z"/><path d="M433.8 717.8 L439.0 714.5 L447.3 712.9 L455.5 716.2 L463.7 715.3 L470.3 718.6 L478.5 721.1 L485.1 720.3 L489.2 722.7 L452.2 724.4 L451.4 735.9 L432.5 733.9Z"/><path d="M432.1 689.9 L434.9 685.3 L436.6 687.4 L434.4 694.8 L432.5 694.0Z"/><path d="M463.7 666.0 L470.3 666.8 L476.8 664.4 L482.6 663.2 L485.1 668.5 L481.8 673.4 L475.2 675.1 L468.6 672.6 L464.5 669.3Z"/><path d="M465.7 682.0 L468.6 681.6 L469.5 684.1 L466.2 684.6Z"/><path d="M502.3 658.6 L506.8 658.3 L507.3 661.1 L503.2 661.6Z"/><path d="M482.6 584.7 L488.4 580.5 L493.0 578.4 L490.8 584.7 L486.7 590.4 L483.4 588.8Z"/><path d="M539.3 561.6 L544.2 560.0 L546.7 565.8 L544.2 570.7 L540.1 569.9Z"/><path d="M559.0 559.2 L568.1 559.2 L569.7 566.6 L566.4 573.2 L560.7 572.3 L556.6 567.4Z"/><path d="M590.3 582.2 L596.8 580.5 L602.1 582.2 L601.8 587.1 L595.2 587.6 L590.3 584.7Z"/><path d="M569.7 605.2 L575.5 602.4 L583.7 603.6 L587.8 609.3 L585.3 615.9 L578.8 620.0 L572.2 620.5 L568.6 614.2Z"/><path d="M514.7 721.1 L521.2 716.2 L531.1 715.8 L541.0 718.6 L545.1 721.9 L541.8 729.3 L536.0 734.2 L526.2 734.6 L517.9 731.0 L513.8 726.0Z"/><path d="M591.1 657.0 L595.2 654.5 L599.3 657.8 L597.7 662.7 L593.6 664.4Z"/><path d="M605.9 671.8 L610.8 666.0 L610.8 678.4 L607.5 675.9Z"/><path d="M611.6 632.3 L616.6 625.8 L619.9 624.1 L619.0 630.7 L622.3 634.0 L625.6 629.0 L626.4 637.3 L631.4 642.2 L637.9 643.8 L642.9 642.2 L646.5 645.5 L646.5 663.6 L641.2 665.2 L634.7 669.3 L628.1 673.4 L621.5 677.5 L614.9 676.7 L609.2 673.4 L609.2 658.6 L613.3 652.1 L615.8 645.5 L614.9 638.9Z"/><path d="M633.0 620.0 L638.8 615.9 L642.1 620.0 L645.3 627.4 L648.6 632.3 L645.3 634.8 L640.4 633.2 L636.3 628.2 L633.0 624.1Z"/><path d="M647.0 657.0 L651.1 652.1 L657.7 646.3 L665.9 644.7 L671.6 638.9 L676.6 635.3 L681.5 640.5 L685.6 648.8 L689.7 654.5 L685.6 657.0 L680.7 661.9 L674.1 666.0 L665.9 667.7 L659.3 666.8 L652.7 665.2 L647.0 662.7Z"/><path d="M338.0 697.0 L372.0 697.0 L372.0 724.0 L338.0 724.0Z"/><path d="M190.0 610.1 L194.9 612.1 L199.0 614.5 L197.4 616.2 L193.3 614.5Z"/><path d="M200.7 613.4 L205.6 613.7 L209.7 615.3 L207.3 617.0 L202.3 615.7Z"/><path d="M203.2 635.9 L205.9 635.1 L207.3 637.5 L204.8 638.7Z"/><path d="M227.0 636.4 L230.3 637.0 L232.7 640.8 L229.9 641.3Z"/><path d="M223.7 647.9 L225.7 647.4 L228.6 654.0 L226.7 654.8Z"/></g>
<g fill="#ef8a62"><path d="M351.1 589.0 L354.4 585.8 L357.7 588.2 L356.0 593.2 L351.9 594.0Z"/><path d="M337.9 600.5 L343.7 598.9 L345.3 603.8 L340.4 605.5Z"/><path d="M369.2 698.9 L374.9 699.7 L377.9 704.7 L375.8 711.2 L369.2 713.7Z"/><path d="M365.8 699.7 L374.7 698.4 L377.8 706.1 L373.5 712.5 L366.5 711.2Z"/></g>
<g fill="#fddbc7"><path d="M327.3 678.6 L332.2 677.0 L337.1 677.8 L342.1 676.2 L338.8 681.1 L332.2 681.9Z"/></g>
<g fill="#f7f7f7"><path d="M1077.6 767.7 L1082.1 766.8 L1082.9 771.0 L1077.9 771.8Z"/><path d="M1064.0 826.8 L1068.1 826.0 L1068.9 831.8 L1064.8 835.1 L1062.8 831.8Z"/></g>
<g fill="#aaaaaa"><path d="M749.7 300.3 L754.7 297.0 L760.4 295.3 L761.2 298.6 L756.3 301.1 L753.0 303.6 L749.7 302.7Z"/><path d="M778.0 346.0 L781.0 345.0 L782.9 347.9 L781.0 350.4 L778.3 349.3Z"/><path d="M389.7 440.8 L394.7 442.5 L397.1 449.0 L402.1 449.9 L404.5 447.4 L408.6 449.9 L407.0 455.6 L409.5 462.2 L407.8 466.3 L401.2 467.1 L397.9 469.6 L394.7 465.5 L393.0 458.9 L389.7 452.3Z"/><path d="M283.4 649.0 L285.3 648.2 L290.3 656.4 L289.1 658.9 L286.2 655.6Z"/><path d="M1101.8 842.5 L1105.9 837.5 L1110.8 837.5 L1112.5 842.5 L1110.8 847.4 L1106.7 849.0 L1104.2 844.9Z"/><path d="M1171.9 331.1 L1174.4 331.1 L1176.0 344.2 L1173.9 345.1Z"/><path d="M751.7 269.0 L755.5 268.2 L757.5 276.9 L750.5 277.3Z"/></g>
<path d="M592.4 292.3 L602.3 292.3 L612.3 296.0 L618.6 302.3 L619.8 307.3 L629.8 309.8 L639.8 308.5 M520.0 297.3 L532.5 294.8 L542.5 291.0 L544.9 297.3 M647.2 333.5 L648.5 344.7 L649.7 354.7 L653.5 364.6 L653.5 374.6 L648.5 382.1 L646.0 392.1 M884.1 397.7 L884.7 401.8 L885.4 406.7" fill="none" stroke="#a3b1b8" stroke-width="1.5"/>
</g></g>
<g fill="#8098a3">
<path d="M1170.6 565.9 L1175.2 574.1 L1179.8 580.7 L1184.2 587.3 L1186.4 593.0 L1185.6 598.8 L1181.0 602.1 L1176.5 605.3 L1172.7 610.3 L1169.5 617.7 L1165.3 619.3 L1169.5 614.4 L1171.9 610.3 L1167.0 612.7 L1160.4 614.4 L1153.8 608.6 L1157.1 610.3 L1163.7 607.8 L1165.3 602.9 L1158.8 602.9 L1152.2 598.8 L1158.8 599.6 L1162.1 596.3 L1167.0 597.9 L1171.9 596.3 L1175.2 589.7 L1178.5 583.2 L1175.2 579.9 L1168.6 581.5 L1158.8 583.2 L1155.5 579.0 L1162.1 576.6 L1167.0 570.8 L1168.6 565.9Z"/>
<path d="M868.5 780.8 L872.6 776.7 L879.2 776.7 L884.1 780.0 L880.0 783.3 L872.6 784.4Z"/>
<path d="M1177.4 497.7 L1176.9 493.2 L1173.4 491.1 L1169.4 490.1 L1165.3 488.6 L1162.8 485.1 L1161.3 481.6 L1160.8 478.6 L1162.3 486.1 L1164.8 491.1 L1167.9 495.7 L1171.4 499.7 L1174.4 503.2 L1175.9 507.2 L1177.4 511.2 L1179.9 510.7 L1179.9 498.2Z"/>
<path d="M1166.8 549.9 L1165.8 545.4 L1165.3 540.4 L1166.3 534.3 L1167.9 529.3 L1169.4 525.8 L1165.3 526.8 L1163.8 524.3 L1161.3 521.3 L1159.3 518.8 L1156.3 519.3 L1153.3 517.8 L1152.3 514.7 L1154.3 512.2 L1152.3 509.2 L1150.3 505.2 L1149.8 500.2 L1151.3 495.2 L1153.3 491.1 L1154.3 487.6 L1152.3 486.6 L1150.3 488.6 L1146.8 492.1 L1143.7 495.2 L1142.2 497.7 L1144.7 500.2 L1145.3 504.2 L1145.8 508.2 L1147.3 512.2 L1149.3 515.8 L1150.8 519.3 L1151.8 522.3 L1153.3 525.5 L1148.3 524.3 L1142.2 522.8 L1137.2 521.8 L1133.7 523.1 L1137.2 524.3 L1143.2 525.8 L1150.3 528.3 L1154.3 529.3 L1155.8 533.3 L1155.3 537.4 L1158.3 540.4 L1159.3 544.4 L1158.3 548.4 L1159.3 552.4 L1159.3 555.4 L1162.3 556.9 L1167.9 556.9 L1170.4 555.4 L1169.4 549.9Z"/>
</g>
<g fill="none" stroke="#161010" stroke-width="1.6" stroke-linejoin="round" stroke-linecap="round">
<path d="M252.7 206.8 L265.2 209.9 L277.4 213.2 L289.5 216.4 L301.8 219.6 L314.0 222.6 L326.2 225.6 L338.5 228.5 L350.8 231.3 L363.1 234.0 L375.5 236.6 L387.8 239.1 L400.2 241.5 L412.6 243.9 L425.0 246.2 L437.4 248.3 L449.9 250.4 L462.3 252.4 L474.8 254.3 L487.3 256.1 L499.8 257.9 L512.3 259.5 L524.8 261.1 L537.3 262.5 L549.9 263.9 L562.4 265.2 L575.0 266.4 L587.6 267.5 L600.1 268.5 L612.7 269.4 L625.3 270.3 L637.9 271.0 L650.5 271.7 L663.1 272.2 L675.7 272.7 L688.3 273.1 L701.0 273.4 L713.6 273.6 L726.2 273.7 L738.8 273.7 L749.7 273.6 L750.5 264.1 L756.3 264.4 L757.9 274.0 L760.4 279.7 L767.8 281.4 L776.0 283.8 L781.0 284.7 L786.7 281.9 L792.5 283.0 L799.0 287.1 L804.0 290.4 L809.7 290.1 L815.5 293.7 L822.1 296.2 L828.6 293.7 L836.8 292.9 L843.4 294.5 L850.0 294.5 L854.0 296.6 L846.6 301.0 L840.1 305.2 L828.6 315.1 L818.8 324.9 L809.7 331.8 L817.1 333.2 L827.0 330.7 L831.9 331.5 L831.6 335.6 L838.5 329.9 L843.4 331.5 L840.0 334.4 L846.6 331.9 L856.4 327.0 L864.7 322.9 L872.1 317.9 L877.8 312.2 L884.4 308.6 L889.3 308.6 L886.0 312.2 L881.1 317.1 L878.6 322.1 L878.1 326.2 L882.7 323.7 L889.3 324.5 L895.9 328.6 L900.8 332.7 L909.0 333.6 L914.0 330.3 L922.2 327.0 L932.1 324.5 L942.7 321.2 L943.6 327.0 L948.5 328.6 L955.1 327.0 L959.2 326.2 L961.6 335.2 L966.6 339.3 L971.5 336.8 L974.0 338.5 L971.5 341.8 L964.9 341.0 L958.4 341.8 L952.6 341.8 L945.2 341.0 L937.0 340.5 L932.1 343.4 L925.5 345.1 L920.5 348.4 L917.3 352.5 L914.8 355.8 L912.3 350.0 L909.0 354.9 L907.4 349.2 L905.8 356.6 L902.5 364.8 L899.2 373.0 L895.1 377.9 L892.6 382.9 L891.8 387.0 L895.1 384.5 L899.2 377.9 L903.3 374.7 L905.8 369.7 L909.9 365.1 L907.4 373.0 L904.9 379.6 L903.3 386.2 L901.6 394.4 L900.0 402.6 L899.2 410.0 L899.2 400.0 L897.5 413.2 L896.7 424.7 L899.2 436.2 L902.5 446.0 L904.9 454.2 L907.4 460.8 L910.7 464.1 L917.3 463.3 L922.2 460.0 L925.5 454.2 L928.8 444.4 L930.4 434.5 L929.6 424.7 L927.1 416.4 L923.8 408.2 L922.2 400.0 L923.8 410.0 L922.2 401.0 L923.8 394.4 L925.5 387.8 L926.3 381.2 L928.8 376.3 L933.7 373.0 L936.2 366.4 L938.1 374.7 L939.5 366.4 L940.3 364.8 L941.9 359.9 L946.8 357.4 L945.2 352.5 L948.5 348.0 L955.1 349.2 L961.6 351.6 L969.9 355.8 L976.4 359.9 L980.5 364.0 L979.7 369.7 L983.0 376.3 L982.2 382.9 L979.7 387.8 L974.8 392.7 L973.2 397.7 L974.8 401.8 L979.7 401.0 L983.0 396.0 L987.9 391.9 L993.7 390.3 L997.0 396.0 L1000.3 402.6 L1002.7 410.0 L1000.3 400.0 L1002.7 409.9 L1004.4 418.1 L1005.2 424.7 L1000.3 427.1 L998.6 432.9 L995.3 439.5 L994.5 446.0 L991.2 452.6 L997.8 455.9 L1004.4 458.4 L1011.0 459.2 L1017.5 455.9 L1025.8 452.6 L1034.0 447.7 L1042.2 442.7 L1048.8 439.5 L1057.0 432.9 L1063.6 427.1 L1070.1 419.7 L1070.0 419.0 L1073.3 414.9 L1075.8 410.0 L1074.1 405.1 L1070.8 403.4 L1070.0 398.5 L1076.6 396.8 L1086.4 393.6 L1099.6 393.6 L1109.5 391.1 L1117.7 385.3 L1122.6 381.2 L1124.2 375.5 L1121.0 371.4 L1124.2 368.9 L1119.3 366.4 L1122.6 362.3 L1127.5 355.8 L1132.5 347.5 L1137.4 341.0 L1142.3 336.8 L1147.3 335.2 L1171.1 330.3 L1204.0 321.2 L1205.0 321.2 L1207.1 315.1 L1210.1 312.4 L1215.1 310.8 L1216.3 307.7 L1218.2 304.0 L1219.4 299.0 L1221.2 294.1 L1220.6 287.9 L1221.8 281.8 L1221.2 276.8 L1222.5 270.7 L1223.7 264.5 L1225.5 257.1 L1227.4 249.7 L1229.2 245.4 L1232.3 246.0 L1234.8 249.7 L1238.5 250.3 L1242.8 246.6 L1245.9 243.3 L1250.2 243.6 L1254.5 246.0 L1258.8 248.5 L1260.7 254.7 L1263.8 264.5 L1266.8 274.4 L1269.9 283.6 L1273.0 284.9 L1276.7 284.2 L1277.3 287.9 L1279.8 291.6 L1283.5 294.1 L1287.2 295.3 L1289.0 299.0 L1290.3 302.7 L1289.0 306.4 L1289.5 306.4 L1283.7 309.7 L1278.8 314.7 L1273.8 317.1 L1272.2 322.9 L1267.3 321.2 L1264.8 327.0 L1260.7 322.1 L1258.2 329.5 L1257.4 334.4 L1250.8 339.3 L1246.7 341.0 L1241.8 345.1 L1239.3 350.8 L1237.7 359.0 L1235.2 367.3 L1233.6 373.8 L1236.0 377.1 L1239.3 379.6 L1236.0 383.7 L1234.4 388.6 L1239.3 391.9 L1244.2 398.5 L1248.4 403.4 L1259.0 400.1 L1259.9 395.2 L1255.8 390.6 L1251.6 391.1 L1254.1 393.6 L1256.6 396.8 L1254.1 399.3 L1248.4 402.1 L1246.7 405.1 L1245.1 408.4 L1241.0 410.8 L1236.0 413.3 L1234.4 406.7 L1232.7 405.1 L1231.9 412.5 L1227.8 416.6 L1222.9 418.2 L1214.7 421.5 L1206.4 424.8 L1198.2 429.7 L1192.5 434.7 L1189.2 438.8 L1185.1 442.9 L1183.4 451.1 L1187.5 454.4 L1189.2 462.6 L1188.7 470.0 L1188.4 450.0 L1188.9 460.0 L1189.5 466.0 L1188.9 472.1 L1186.9 478.1 L1184.4 484.1 L1181.9 490.1 L1179.4 495.2 L1177.4 497.7 L1177.4 511.2 L1177.9 514.2 L1177.4 519.3 L1175.9 525.3 L1174.4 530.3 L1171.9 536.3 L1169.4 542.4 L1167.4 547.4 L1166.8 549.9 L1167.9 556.9 L1170.4 561.5 L1173.4 570.0 L1175.2 573.3 L1180.1 579.9 L1185.1 586.4 L1187.5 593.0 L1186.7 599.6 L1181.8 602.9 L1176.8 606.2 L1172.7 611.9 L1169.9 619.3 L1169.5 619.7 L1167.0 618.9 L1162.1 620.5 L1155.5 623.0 L1150.5 626.3 L1147.3 631.2 L1143.2 637.8 L1140.7 644.4 L1135.8 646.0 L1127.5 648.5 L1122.6 654.2 L1118.5 662.5 L1116.0 669.0 L1111.1 675.6 L1105.3 682.2 L1099.6 688.8 L1093.0 694.5 L1087.3 700.3 L1084.0 706.8 L1079.9 715.1 L1079.6 719.2 L1077.9 723.3 L1076.3 729.9 L1075.5 738.1 L1076.0 744.7 L1078.8 751.2 L1082.9 759.5 L1087.8 769.3 L1092.7 779.2 L1097.7 789.0 L1102.6 797.3 L1106.7 800.5 L1108.4 805.5 L1112.5 813.7 L1117.4 821.9 L1120.7 828.5 L1124.0 836.7 L1126.4 843.3 L1128.1 851.5 L1128.9 859.7 L1129.4 867.9 L1128.9 876.2 L1128.1 882.7 L1125.6 884.4 L1121.5 886.0 L1117.4 888.5 L1112.5 890.1 L1108.4 891.0 L1106.7 887.7 L1107.5 883.6 L1104.2 878.6 L1099.3 874.5 L1094.4 872.9 L1089.5 868.8 L1085.3 864.7 L1083.7 859.7 L1084.5 853.2 L1081.2 856.4 L1078.8 858.1 L1077.9 851.5 L1077.1 846.6 L1073.8 849.0 L1069.7 844.9 L1064.8 840.0 L1061.5 835.1 L1064.0 831.8 L1065.6 826.8 L1062.8 823.6 L1061.5 827.7 L1058.2 828.8 L1055.3 825.2 L1055.8 817.0 L1056.6 808.8 L1056.2 800.5 L1053.3 794.8 L1048.4 790.7 L1041.8 785.8 L1035.2 780.8 L1028.6 775.1 L1023.7 771.8 L1017.1 770.6 L1012.2 772.6 L1008.9 775.9 L1004.0 780.0 L1002.3 782.5 L999.9 780.8 L994.1 783.3 L988.4 784.1 L986.7 779.2 L982.6 775.1 L980.1 770.1 L974.4 771.0 L967.8 767.7 L961.2 766.0 L954.7 768.5 L948.1 769.3 L946.4 766.0 L942.3 769.3 L936.6 772.6 L940.0 771.8 L936.7 772.3 L930.1 772.6 L926.0 769.3 L923.6 764.4 L921.9 769.3 L915.3 772.3 L908.8 772.6 L900.5 774.2 L894.0 776.7 L889.0 779.2 L884.9 780.8 L882.5 784.9 L885.8 785.8 L890.7 784.1 L892.3 787.4 L889.0 792.3 L885.8 797.3 L889.0 802.2 L894.0 807.1 L895.6 811.2 L900.5 809.6 L903.5 806.3 L899.7 803.8 L894.0 803.8 L887.4 802.2 L880.8 800.5 L876.7 798.9 L878.4 803.8 L875.9 808.8 L872.6 804.7 L866.0 805.5 L861.9 809.6 L856.2 807.1 L849.6 805.5 L848.8 802.2 L844.7 800.5 L839.7 798.1 L836.4 795.6 L831.5 794.8 L828.2 798.9 L821.6 799.7 L811.8 797.6 L801.9 795.6 L792.1 795.3 L785.5 795.9 L775.6 798.9 L769.0 801.4 L764.9 796.9 L760.0 797.3 L761.6 800.5 L765.8 805.5 L759.2 810.4 L752.6 815.3 L744.4 820.3 L736.2 825.2 L727.9 828.5 L721.4 831.8 L720.0 831.8 L716.7 835.1 L711.8 840.0 L707.7 844.9 L703.6 851.5 L701.1 858.1 L698.6 864.7 L701.1 872.9 L704.4 884.4 L706.5 896.7 L701.1 899.2 L695.3 897.5 L687.1 895.1 L678.9 892.6 L672.3 890.1 L665.8 886.8 L660.0 882.7 L656.7 877.8 L653.4 871.2 L651.0 864.7 L649.3 856.4 L644.4 849.9 L638.6 841.6 L633.7 835.1 L630.4 827.7 L627.1 820.3 L624.7 813.7 L621.4 808.8 L616.4 803.8 L611.5 798.1 L607.4 794.0 L601.6 791.5 L593.4 790.7 L585.2 789.0 L577.0 792.3 L572.9 797.3 L570.4 804.7 L566.3 808.8 L562.2 810.4 L557.3 807.1 L550.7 803.0 L544.1 798.1 L537.5 792.3 L532.6 785.8 L530.1 779.2 L527.7 771.0 L524.4 764.4 L518.6 758.6 L512.9 752.9 L507.9 747.1 L503.0 741.4 L498.1 734.8 L494.0 729.0 L489.9 723.3 L489.2 722.7 L452.2 724.4 L451.4 735.6 L432.1 733.4 L386.4 726.0 L369.2 717.5 L342.1 700.0 L306.7 679.5 L313.3 674.2 L254.1 667.9 L252.5 663.0 L252.5 656.4 L250.8 648.2 L247.5 641.6 L243.4 635.1 L238.5 630.1 L233.6 629.3 L232.7 625.2 L228.6 620.3 L222.1 617.0 L215.5 612.1 L210.5 605.5 L204.0 601.4 L195.8 599.7 L190.0 594.8 L191.6 589.0 L192.5 582.5 L190.0 574.2 L186.7 566.0 L182.6 557.8 L179.3 549.6 L176.0 541.4 L176.8 535.6 L179.3 529.9 L177.7 524.9 L173.6 520.0 L171.1 514.2 L171.9 507.7 L173.6 500.3 L175.2 504.4 L178.5 509.3 L176.8 502.7 L179.3 496.2 L182.6 494.5 L179.3 492.1 L176.0 492.9 L173.6 497.8 L169.5 493.7 L165.3 490.4 L167.0 486.3 L163.7 479.7 L160.4 471.5 L157.9 463.3 L158.8 455.1 L160.4 446.8 L161.2 438.6 L158.8 430.4 L156.3 423.8 L157.1 417.3 L160.4 412.3 L164.5 405.8 L168.6 395.9 L170.3 387.7 L171.1 379.5 L171.9 371.2 L174.1 361.4 L177.0 353.2 L180.1 344.9 L181.8 340.0 L182.9 340.0 L190.3 327.7 L196.5 316.2 L201.0 304.7 L205.1 293.2 L208.4 281.6 L210.2 273.4 L215.8 271.5 L209.5 269.3 L212.5 265.2 L214.9 261.9 L213.3 258.6 L214.9 254.5 L218.2 252.1 L214.9 249.6 L213.8 245.5 L214.4 237.3 L213.8 229.0 L212.5 222.5 L213.3 216.7 L214.6 212.3 L220.7 216.7 L227.3 221.6 L233.8 224.9 L241.2 226.1 L245.3 229.0 L247.0 234.0 L242.1 238.9 L235.5 247.1 L238.8 252.1 L244.0 254.0 L249.0 248.8 L246.2 242.2 L249.5 237.3 L255.2 232.3 L253.2 225.8 L255.2 217.5 L251.9 212.6 L252.7 206.8Z"/>
<path d="M1185.1 447.8 L1190.8 436.3 L1198.2 432.2 L1206.4 429.7 L1214.7 426.4 L1221.2 425.6 L1225.3 426.4 L1217.9 431.4 L1211.4 436.3 L1203.2 441.2 L1194.9 446.2 L1188.4 449.5 L1183.4 451.9Z"/>
<path d="M862.2 298.7 L867.9 294.1 L874.2 290.5 L872.9 293.3 L867.1 297.7 L863.0 300.4Z"/>
<path d="M1244.6 412.5 L1248.4 410.0 L1250.8 411.6 L1246.7 413.6Z"/>
<path d="M1257.4 411.6 L1260.4 409.7 L1262.0 412.0 L1259.0 413.0Z"/>
<path d="M190.0 610.1 L194.9 612.1 L199.0 614.5 L197.4 616.2 L193.3 614.5Z"/>
<path d="M200.7 613.4 L205.6 613.7 L209.7 615.3 L207.3 617.0 L202.3 615.7Z"/>
<path d="M203.2 635.9 L205.9 635.1 L207.3 637.5 L204.8 638.7Z"/>
<path d="M227.0 636.4 L230.3 637.0 L232.7 640.8 L229.9 641.3Z"/>
<path d="M223.7 647.9 L225.7 647.4 L228.6 654.0 L226.7 654.8Z"/>
<path d="M210.2 272.1 L215.8 271.8 L222.3 274.2 L227.3 278.4 L228.9 284.9 L229.2 291.5 L233.8 294.8 L239.6 297.3 L245.3 296.4 L251.9 298.1 L258.5 301.0 L268.4 302.2 L278.2 302.4 L286.4 301.7 L297.1 301.7 L300.2 302.3 M338.9 299.6 L339.5 305.0 L338.7 309.9 L343.2 315.3 L345.6 320.3 L344.0 326.0 L339.0 332.6 L334.9 340.0 M370.8 236.4 L369.5 245.5 L367.3 258.6 L369.5 265.2 L371.1 275.1 L375.2 281.6 L379.3 289.9 L383.4 296.4 L387.5 301.4 L390.0 303.8 M379.2 291.2 L383.3 297.0 L387.4 301.9 L389.0 306.8 L385.8 318.4 L382.5 328.2 L386.6 331.5 L392.3 330.7 L395.6 334.8 L397.3 343.0 L399.7 349.6 L401.4 356.2 L404.7 361.9 L407.1 366.8 L412.9 367.7 L419.5 366.8 L427.7 368.5 L434.2 369.0 L436.7 364.4 L439.2 366.0 L441.2 371.0 M713.6 273.8 L715.2 292.1 L716.8 306.8 L719.3 323.3 L721.8 336.4 L724.2 347.9 L725.1 355.3 L723.4 357.8 L719.3 362.7 L721.8 369.3 L726.7 372.6 L727.5 380.0 M809.7 332.3 L806.4 336.4 L805.6 347.9 L800.7 354.5 L796.6 361.1 L795.8 364.4 L799.0 371.0 L798.2 380.0 M843.6 336.0 L848.2 340.1 L859.7 344.2 L872.9 347.5 L882.7 350.0 L887.7 352.5 L891.0 357.4 L893.4 364.0 L896.7 368.1 L897.5 373.0 M1150.5 418.5 L1153.8 421.5 L1158.8 426.4 L1162.1 429.7 L1166.2 432.7 M1166.2 432.7 L1184.2 438.8 M1166.2 432.7 L1163.7 439.6 L1161.2 446.2 L1163.7 452.7 L1168.6 457.7 L1172.7 462.6 L1175.2 465.1 L1170.3 470.0 M1171.1 330.3 L1172.7 339.3 L1175.2 349.2 L1176.8 359.0 L1178.5 366.4 L1181.8 368.9 L1184.2 377.1 L1185.9 383.7 L1187.0 388.6 L1188.0 407.5 L1190.0 419.9 L1191.3 429.7 L1191.6 433.0 L1186.7 437.1 L1189.2 438.8 M1204.0 321.2 L1205.6 327.8 L1206.4 334.4 L1201.5 341.0 L1200.7 350.8 L1201.5 360.7 L1200.7 372.2 L1199.9 381.2 L1201.0 385.3 M1187.0 388.6 L1201.0 385.3 L1227.8 379.6 L1231.9 375.5 L1233.6 373.8 M1188.0 407.5 L1221.2 401.8 L1228.6 399.3 L1230.3 405.1 L1231.9 411.6 M1221.2 401.8 L1223.7 411.6 L1225.3 417.4 M1235.2 367.3 L1230.3 355.8 L1224.5 342.6 L1218.8 326.2 L1213.8 314.7 L1212.2 311.4 M313.8 416.4 L319.0 394.2 L323.2 372.9 L328.1 359.7 L324.8 354.8 L327.3 348.2 L333.8 340.0 M179.3 492.1 L185.9 495.3 L195.8 498.6 M686.4 435.1 L690.5 437.5 L695.5 440.0 L702.1 439.2 L708.6 439.5 L715.2 442.5 L720.1 445.8 L724.2 449.0 M727.0 421.9 L724.2 423.6 L725.9 429.3 L725.1 435.9 L723.4 442.5 L724.2 449.0 L727.5 454.0 L730.0 460.5 L733.3 468.8 L736.6 477.0 L737.9 485.2 L739.9 495.1 L741.5 501.6 L744.8 509.9 L748.1 516.4 L753.0 519.7 L757.9 521.4 L758.8 524.7 L755.5 528.8 L757.9 532.9 L762.1 537.8 L764.5 541.9 M823.7 498.4 L827.0 501.6 L830.3 504.9 M798.2 380.0 L800.7 388.2 L807.3 393.2 L815.5 398.1 L823.7 404.7 L828.6 409.6 L829.5 419.5 L832.7 424.4 L832.7 432.6 L837.7 440.8 L843.4 445.8 L849.2 450.7 L853.3 455.6 L854.9 462.2 L850.0 470.4 L840.1 475.3 L836.8 480.3 L839.3 486.8 L836.8 495.1 L831.1 498.4 L830.3 504.9 L831.1 511.5 L833.6 519.7 L840.1 527.9 L845.1 534.5 L848.4 541.1 L850.0 543.6 M912.3 531.5 L913.2 538.1 L912.3 544.7 L909.0 552.9 L907.4 561.1 L906.6 567.7 L905.8 571.0 M903.3 580.0 L905.8 571.0 L909.0 567.7 L915.6 567.7 L922.2 566.0 L927.1 568.5 L932.1 564.4 L937.0 562.7 L940.3 557.8 L945.2 561.1 L950.1 557.8 L955.1 551.2 L958.4 546.3 L960.8 539.7 L966.6 538.1 L971.5 534.8 L971.5 528.2 L976.4 527.4 L981.4 529.9 L986.3 533.2 L992.9 535.6 L999.5 536.4 L1006.0 534.8 L1011.0 533.2 L1016.7 536.4 L1020.8 540.5 L1025.8 538.1 L1027.4 531.5 L1030.7 524.9 L1034.8 520.8 L1037.3 515.1 L1042.2 511.8 L1047.1 506.8 L1051.2 500.3 L1053.7 492.1 L1053.7 482.2 L1052.4 475.6 M1020.8 540.5 L1022.5 547.9 L1027.4 554.5 L1032.3 561.1 L1036.4 564.4 L1043.8 569.3 L1050.4 566.0 L1058.6 564.4 L1066.8 559.5 L1073.4 557.8 L1076.7 547.9 L1078.4 539.7 L1080.0 531.5 M1036.4 564.4 L1029.0 572.6 L1022.5 580.0 M840.0 442.7 L843.3 446.0 L849.9 451.0 L854.0 457.5 L853.2 465.8 L848.2 472.3 L842.5 475.6 L840.0 475.9 M840.0 529.9 L844.9 534.8 L849.0 543.0 L856.4 544.7 L859.7 551.2 L858.1 557.8 L856.4 564.4 L863.0 569.3 L869.6 574.2 L874.5 580.0 M1105.3 492.4 L1104.5 499.3 L1103.7 510.8 L1097.1 515.8 L1092.2 520.7 L1091.4 527.3 L1084.8 529.7 L1081.8 528.6 L1078.2 538.8 L1074.9 548.6 L1071.6 558.5 L1070.0 561.8 M1070.0 582.3 L1171.1 565.1 M342.9 583.3 L338.8 587.4 L333.8 584.9 L327.3 584.1 L326.4 589.0 L325.6 598.9 L324.0 608.8 L323.2 613.7 L326.4 621.9 L328.1 628.5 L329.7 633.4 L324.8 637.5 L320.7 643.3 L319.0 651.5 L314.1 656.4 L311.6 661.4 L312.5 666.3 L314.9 669.6 L313.3 674.2 M646.5 663.6 L651.1 666.8 L656.0 668.5 L661.0 667.7 L664.2 673.4 L670.8 675.1 L677.4 677.5 L684.0 676.7 L688.9 680.0 L692.2 684.1 L698.8 681.6 L704.5 685.8 L710.3 683.3 L711.1 688.2 L715.2 683.3 L721.8 684.9 L728.4 689.0 L734.9 685.8 L741.5 684.1 L746.4 682.5 L753.0 682.5 L757.9 685.8 L764.5 689.0 L770.3 690.2 L779.3 692.3 M766.5 612.6 L770.3 652.1 L770.3 690.2 M850.0 673.4 L847.5 680.0 L845.1 688.2 L846.7 696.4 L847.5 705.5 L846.7 714.5 L848.4 722.7 L850.8 726.0 M856.4 559.2 L861.4 566.6 L869.6 571.5 L875.3 576.4 L877.0 584.7 L881.1 591.2 L884.4 595.3 L883.6 602.7 L878.6 606.8 L877.0 607.7 L875.3 622.5 L872.9 629.0 L869.6 637.3 L866.3 643.8 L863.8 650.4 L859.7 658.6 L855.6 666.8 L850.7 675.1 L847.4 681.6 L844.9 689.9 L845.8 698.1 L847.4 705.5 L846.6 712.9 L849.0 719.5 L851.5 724.4 L848.2 731.0 L844.9 737.5 L843.3 740.8 M839.2 610.1 L862.2 609.3 L865.5 614.2 L859.7 623.3 L875.3 622.5 M884.4 595.3 L889.3 590.4 L897.5 588.8 L899.2 583.0 L904.1 576.4 L905.8 568.2 L914.0 566.6 L922.2 564.9 L928.8 563.3 L935.3 559.2 M905.8 568.2 L907.4 559.2 M878.6 607.7 L908.2 605.7 L909.0 601.1 L1004.4 592.9 L1047.1 587.9 L1080.8 582.2 M1004.4 592.9 L1014.2 587.9 L1020.8 581.4 L1027.4 573.2 L1034.0 566.6 L1036.4 563.3 L1043.8 568.2 L1052.1 565.8 L1060.3 564.1 L1066.8 559.2 M1047.1 587.9 L1045.5 594.5 L1038.9 601.1 L1030.7 607.7 L1022.5 615.9 L1012.6 620.8 L1002.7 625.8 L997.0 630.7 L996.2 637.3 M863.8 650.4 L910.7 646.8 L966.6 642.2 L996.2 637.3 L1020.8 635.3 L1029.0 630.7 L1037.3 627.1 L1066.8 624.4 L1070.1 626.6 L1073.4 631.5 L1080.8 630.7 M966.6 642.2 L981.4 691.5 L984.7 699.7 L988.8 707.9 L990.4 714.5 L987.9 724.4 L988.8 732.6 L990.4 740.8 M1020.8 635.3 L1018.4 641.4 L1025.8 647.1 L1031.5 653.7 L1037.3 660.3 L1043.8 666.8 L1052.1 673.4 L1058.6 681.6 L1065.2 689.9 L1069.3 695.1 M839.2 704.7 L846.9 705.5 M1069.2 624.7 L1074.1 630.4 L1099.6 628.8 L1127.5 648.5 M1069.2 694.5 L1074.1 697.8 L1077.4 703.6 L1079.9 707.7 M1069.2 744.3 L1075.8 744.7 M780.5 719.2 L782.2 729.9 L785.5 739.7 L789.6 749.6 L792.9 757.8 L792.1 767.7 L789.6 777.5 L788.8 787.4 L786.3 794.0 L785.5 796.4 M851.2 719.2 L852.1 726.6 L847.9 733.2 L844.7 739.7 L841.4 747.9 L838.9 754.5 L838.1 759.9 L882.5 758.1 L881.6 764.4 L884.1 771.0 L886.6 776.7 L888.2 780.8 M933.4 753.7 L936.7 761.1 L937.5 769.3 L938.4 772.3 M995.8 755.3 L1059.9 752.1 L1061.5 755.3 L1063.2 754.5 L1064.0 747.1 L1075.5 744.7 M987.5 719.2 L988.4 728.2 L990.0 736.4 L991.6 744.7 L992.5 748.8 L995.8 755.3 M936.6 772.6 L937.4 769.3 L935.8 761.1 L933.3 754.5 L992.5 748.3 M1156.3 480.6 L1157.3 478.6 L1159.3 477.6 L1160.8 478.6 M1156.3 480.6 L1163.8 513.7 L1176.9 510.7 M1170.4 460.0 L1173.9 464.5 L1169.4 470.0 L1165.3 474.1 L1161.8 476.6 L1160.8 478.6 M1080.7 496.4 L1082.3 508.4 L1088.1 502.6 L1090.0 500.2 L1094.0 496.2 L1098.0 494.7 L1100.0 496.7 L1104.1 493.2 L1107.6 491.6 L1110.1 492.1 L1112.6 492.6 L1114.6 494.7 L1116.6 499.7 L1116.9 504.2 L1119.1 499.2 L1122.1 500.7 L1124.2 503.2 L1130.2 505.7 L1133.7 506.2 L1135.7 508.2 L1135.7 510.2 M300.2 302.3 L304.0 303.2 L307.8 304.2 L311.7 305.1 L315.5 306.0 L319.3 306.9 L323.2 307.7 L327.0 308.6 L330.9 309.5 L334.7 310.3 L338.6 311.2 M354.5 232.1 L353.0 238.8 L351.4 245.5 L349.8 252.3 L348.3 259.0 L346.7 265.8 L345.1 272.5 L343.6 279.3 L342.0 286.1 L340.4 292.9 L338.9 299.6 M169.6 379.4 L178.2 382.0 L186.8 384.5 L195.4 387.0 L204.0 389.5 L212.6 391.9 L221.3 394.2 L229.9 396.6 L238.6 398.9 L247.3 401.1 L255.9 403.3 L264.6 405.5 L273.3 407.6 L282.0 409.7 L290.8 411.8 L299.5 413.8 L308.2 415.8 L317.0 417.7 L325.8 419.6 L334.5 421.5 L343.3 423.3 L352.1 425.0 L360.9 426.8 L369.7 428.5 L378.5 430.1 L387.3 431.7 L396.1 433.3 L405.0 434.8 L413.8 436.3 L422.7 437.8 L431.5 439.2 M253.6 402.8 L251.6 410.7 L249.5 418.6 L247.4 426.5 L245.3 434.4 L243.2 442.4 L241.2 450.3 L239.1 458.2 L237.0 466.2 L234.9 474.1 L232.8 482.0 L241.1 495.4 L249.6 508.7 L258.2 522.0 L266.9 535.3 L275.7 548.5 L284.7 561.7 L293.9 574.8 L303.1 587.9 L312.5 601.0 L322.1 614.0 M371.7 428.8 L369.1 442.2 L366.4 455.6 L363.8 469.0 L361.2 482.4 L358.5 495.8 L355.9 509.2 L353.2 522.6 L350.6 536.0 L347.9 549.4 L345.3 562.9 L344.8 565.3 L344.4 567.7 L343.9 570.1 L343.4 572.5 L342.9 574.9 L342.5 577.3 L342.0 579.7 L341.5 582.2 L341.1 584.6 L340.6 587.0 M345.3 562.9 L353.9 564.4 L362.4 566.0 L371.0 567.5 L379.6 569.0 L388.2 570.5 L396.8 571.9 L405.4 573.3 L414.0 574.7 L422.6 576.0 L431.2 577.2 L439.8 578.5 L448.5 579.7 L457.1 580.9 L465.7 582.0 L474.4 583.1 L483.0 584.2 L491.7 585.2 L500.3 586.2 L509.0 587.1 L517.7 588.1 L526.3 589.0 L535.0 589.8 L543.7 590.6 L552.4 591.4 L561.0 592.1 L569.7 592.8 L578.4 593.5 L587.1 594.1 L595.8 594.7 L604.5 595.3 M604.5 595.3 L612.6 595.8 L620.6 596.3 L628.7 596.7 L636.8 597.1 L644.8 597.4 L652.9 597.8 L661.0 598.1 L669.0 598.4 L677.1 598.6 L685.2 598.8 L693.3 599.0 L701.3 599.1 L709.4 599.2 L717.5 599.3 L725.6 599.4 L733.6 599.4 L741.7 599.4 L749.8 599.4 L757.9 599.3 L765.9 599.2 M431.5 439.2 L431.3 440.5 L431.1 441.9 L430.9 443.2 L430.6 444.6 L430.4 445.9 L430.2 447.3 L430.0 448.6 L429.8 449.9 L429.6 451.3 L429.3 452.6 L429.1 454.0 L428.9 455.3 L428.7 456.7 L428.5 458.0 L428.2 459.4 L428.0 460.7 L427.8 462.1 L427.6 463.4 L427.4 464.8 L427.1 466.1 L436.3 467.5 L445.5 468.9 L454.6 470.2 L463.8 471.5 L473.0 472.8 L482.2 474.0 L491.4 475.1 L500.6 476.2 L509.8 477.3 L519.0 478.3 L528.2 479.3 L537.4 480.3 L546.7 481.2 L555.9 482.0 L565.1 482.8 L574.4 483.6 L583.6 484.4 L592.8 485.0 L602.1 485.7 L611.3 486.3 M467.9 472.1 L466.4 482.9 L464.9 493.7 L463.3 504.5 L461.8 515.3 L460.3 526.2 L458.8 537.0 L457.3 547.8 L455.7 558.6 L454.2 569.5 L452.7 580.3 L450.5 595.6 L448.4 610.9 L446.2 626.3 L444.1 641.6 L441.9 656.9 L439.8 672.2 L437.6 687.5 L435.5 702.8 L433.3 718.0 L431.2 733.3 M444.6 358.7 L443.3 366.7 L442.0 374.7 L440.7 382.8 L439.4 390.8 L438.1 398.9 L436.8 406.9 L435.5 415.0 L434.1 423.0 L432.8 431.1 L431.5 439.2 M444.6 358.7 L451.3 359.7 L458.0 360.7 L464.8 361.7 L471.5 362.7 L478.2 363.6 L485.0 364.6 L491.7 365.5 L498.5 366.3 L505.2 367.2 L512.0 368.0 L518.7 368.8 L525.5 369.6 L532.2 370.3 L539.0 371.1 L545.8 371.8 L552.5 372.4 L559.3 373.1 L566.1 373.7 L572.8 374.3 L579.6 374.9 M372.0 235.9 L371.7 237.2 L371.5 238.5 M588.9 267.6 L588.0 278.3 L587.0 288.9 L586.1 299.6 L585.2 310.3 L584.3 321.1 L583.3 331.8 L582.4 342.6 L581.5 353.3 L580.6 364.1 L579.6 374.9 L578.7 385.7 L577.8 396.5 L576.8 407.3 L575.9 418.2 L574.9 429.0 L574.0 439.8 L573.1 450.7 L572.1 461.6 L571.2 472.4 L570.3 483.3 M581.8 349.5 L589.0 350.1 L596.1 350.7 L603.3 351.2 L610.4 351.7 L617.6 352.2 L624.8 352.6 L631.9 353.0 L639.1 353.4 L646.3 353.8 L653.4 354.1 L660.6 354.4 L667.8 354.7 L674.9 355.0 L682.1 355.2 L689.3 355.4 L696.5 355.5 L703.6 355.7 L710.8 355.8 L718.0 355.9 L725.2 355.9 M574.9 429.0 L582.3 429.6 L589.7 430.2 L597.1 430.7 L604.5 431.2 L611.9 431.7 L619.3 432.2 L626.7 432.6 L634.1 433.0 L641.5 433.4 L648.9 433.7 L656.3 434.1 L663.7 434.3 L671.1 434.6 L678.5 434.8 L685.9 435.0 M611.3 486.3 L611.2 488.1 L611.1 489.9 L611.0 491.7 L610.9 493.5 L610.8 495.4 L610.6 497.2 L610.5 499.0 L610.4 500.8 L610.3 502.6 L610.2 504.4 L610.1 506.3 L609.9 508.1 L609.8 509.9 L609.7 511.7 L609.6 513.5 L619.0 514.1 L628.4 514.6 L637.7 515.1 L647.1 515.5 L656.5 515.9 L665.9 516.3 L675.3 516.6 L684.7 516.8 L694.1 517.0 L703.5 517.2 L712.9 517.3 L722.3 517.4 L731.7 517.5 L741.1 517.5 L750.5 517.4 M609.6 513.5 L609.1 521.7 L608.6 529.9 L608.1 538.1 L607.5 546.2 L607.0 554.4 L606.5 562.6 L606.0 570.8 L605.5 579.0 L605.0 587.1 L604.5 595.3 M583.6 593.9 L583.5 595.3 L583.4 596.6 L583.3 598.0 L583.2 599.3 L583.1 600.7 L583.0 602.1 L582.9 603.4 L582.8 604.8 L582.7 606.2 L582.6 607.5 L589.2 608.0 L595.7 608.4 L602.3 608.9 L608.9 609.3 L615.4 609.6 L622.0 610.0 L628.6 610.4 L635.1 610.7 L641.7 611.0 L648.3 611.3 L648.0 616.6 L647.8 621.8 L647.6 627.1 L647.4 632.4 L647.1 637.7 L646.9 643.0 L646.7 648.3 L646.4 653.6 L646.2 658.9 L646.0 664.2 M581.7 607.5 L580.8 619.7 L579.8 632.0 L578.8 644.2 L577.9 656.4 L576.9 668.7 L575.9 680.9 L575.0 693.1 L574.0 705.3 L573.0 717.6 L572.0 729.8 L563.8 729.1 L555.6 728.5 L547.3 727.8 L539.1 727.1 L530.8 726.4 L522.6 725.6 L514.4 724.8 L506.2 724.0 L497.9 723.1 L489.7 722.2 M765.3 541.8 L765.4 548.9 L765.5 556.0 L765.6 563.1 L765.6 570.2 L765.7 577.3 L765.8 584.5 L765.9 591.6 L766.0 598.7 L766.1 605.8 L766.1 612.9 M766.1 612.9 L774.3 612.7 L782.5 612.6 L790.6 612.4 L798.8 612.1 L807.0 611.9 L815.1 611.6 L823.3 611.3 L831.4 610.9 L839.6 610.5 L847.7 610.1 L855.9 609.7 L864.0 609.2 M780.8 707.5 L789.1 707.4 L797.3 707.3 L805.5 707.1 L813.7 706.9 L822.0 706.7 L830.2 706.4 L838.4 706.1 L846.6 705.8 M780.5 693.1 L780.6 697.3 L780.7 701.6 L780.8 705.8 L780.9 710.1 L781.0 714.3 L781.1 718.6 L781.2 722.8 L781.3 727.1 L781.3 731.3 L781.4 735.5 M740.7 501.6 L749.0 501.5 L757.4 501.4 L765.8 501.3 L774.1 501.1 L782.5 500.8 L790.9 500.6 L799.2 500.3 L807.6 499.9 L816.0 499.6 L824.3 499.1 M727.0 422.1 L735.6 422.1 L744.3 422.1 L752.9 422.0 L761.6 421.9 L770.3 421.8 L778.9 421.6 L787.6 421.4 L796.2 421.2 L804.9 420.9 L813.5 420.5 L822.2 420.2 L830.8 419.8 M727.2 373.3 L727.2 378.1 L727.1 383.0 L727.1 387.9 L727.1 392.8 L727.1 397.6 L727.1 402.5 L727.0 407.4 L727.0 412.3 L727.0 417.2 L727.0 422.1 M843.9 446.3 L851.1 445.9 L858.2 445.5 L865.4 445.0 L872.5 444.5 L879.6 444.0 L886.8 443.5 L893.9 442.9 L901.0 442.3 M908.3 461.9 L908.9 468.4 L909.5 475.0 L910.1 481.5 L910.7 488.1 L911.3 494.6 L911.9 501.2 L912.5 507.7 L913.0 514.3 L913.6 520.9 L914.2 527.4 M915.0 461.3 L923.1 460.5 L931.2 459.8 L939.3 458.9 L947.4 458.1 L955.5 457.2 L963.6 456.3 L968.2 455.9 L972.8 455.4 L977.3 455.0 L981.9 454.6 L986.5 454.2 L991.0 453.7 M963.8 457.9 L964.6 464.9 L965.4 472.0 L966.2 479.0 L967.0 486.1 L967.9 493.1 L968.7 500.2 L969.5 507.2 L970.3 514.3 L971.1 521.3 L971.9 528.4 M1047.7 430.6 L1048.8 437.4 L1050.0 444.3 L1051.1 451.1 L1052.3 458.0 L1053.4 464.8 L1054.6 471.7 L1055.7 478.6 L1056.9 485.4 L1058.0 492.3 L1059.2 499.2 M1059.2 499.2 L1067.3 497.9 L1075.5 496.5 L1083.6 495.1 L1091.7 493.6 L1099.9 492.2 L1108.0 490.7 L1116.1 489.1 L1124.2 487.6 L1132.3 486.0 L1140.4 484.4 L1148.5 482.7 L1156.6 481.0 M1064.1 435.3 L1071.5 434.0 L1078.8 432.7 L1086.2 431.4 L1093.5 430.1 L1100.8 428.7 L1108.2 427.3 L1115.5 425.9 L1122.8 424.4 L1130.1 422.9 L1137.4 421.4 L1144.7 419.9 L1152.0 418.3 M1062.8 428.0 L1063.5 431.7 L1064.1 435.3 M1080.7 495.6 L1081.5 500.3 L1082.3 504.9 L1083.2 509.6 M839.4 760.5 L846.7 760.2 L854.0 759.8 L861.3 759.4 L868.6 759.0 L876.0 758.6 L883.3 758.1 M933.2 754.3 L940.8 753.6 L948.4 752.9 L956.0 752.2 L963.7 751.5 L971.3 750.7 L978.9 749.9 L986.5 749.1 L994.0 748.2 M910.1 647.0 L910.2 655.5 L910.4 663.9 L910.5 672.4 L910.6 680.9 L910.8 689.3 L910.9 697.8 L911.0 706.3 L911.1 714.7 L911.2 723.2 L911.3 731.6 L911.8 736.1 L912.3 740.5 L912.8 745.0 L913.2 749.4 L913.7 753.9 L914.2 758.3 L914.7 762.8 L915.2 767.2 L915.6 771.7 L916.1 776.1 M967.7 641.6 L969.3 647.2 L970.9 652.9 L972.5 658.6 L974.1 664.2 L975.8 669.9 L977.4 675.6 L979.0 681.2 L980.7 686.9 L982.3 692.5 L984.0 698.2 M1170.6 565.9 L1175.2 574.1 L1179.8 580.7 L1184.2 587.3 L1186.4 593.0 L1185.6 598.8 L1181.0 602.1 L1176.5 605.3 L1172.7 610.3 L1169.5 617.7 L1165.3 619.3 L1169.5 614.4 L1171.9 610.3 L1167.0 612.7 L1160.4 614.4 L1153.8 608.6 L1157.1 610.3 L1163.7 607.8 L1165.3 602.9 L1158.8 602.9 L1152.2 598.8 L1158.8 599.6 L1162.1 596.3 L1167.0 597.9 L1171.9 596.3 L1175.2 589.7 L1178.5 583.2 L1175.2 579.9 L1168.6 581.5 L1158.8 583.2 L1155.5 579.0 L1162.1 576.6 L1167.0 570.8 L1168.6 565.9 L1170.6 565.9 M868.5 780.8 L872.6 776.7 L879.2 776.7 L884.1 780.0 L880.0 783.3 L872.6 784.4 L868.5 780.8 M1177.4 497.7 L1176.9 493.2 L1173.4 491.1 L1169.4 490.1 L1165.3 488.6 L1162.8 485.1 L1161.3 481.6 L1160.8 478.6 L1162.3 486.1 L1164.8 491.1 L1167.9 495.7 L1171.4 499.7 L1174.4 503.2 L1175.9 507.2 L1177.4 511.2 M1166.8 549.9 L1165.8 545.4 L1165.3 540.4 L1166.3 534.3 L1167.9 529.3 L1169.4 525.8 L1165.3 526.8 L1163.8 524.3 L1161.3 521.3 L1159.3 518.8 L1156.3 519.3 L1153.3 517.8 L1152.3 514.7 L1154.3 512.2 L1152.3 509.2 L1150.3 505.2 L1149.8 500.2 L1151.3 495.2 L1153.3 491.1 L1154.3 487.6 L1152.3 486.6 L1150.3 488.6 L1146.8 492.1 L1143.7 495.2 L1142.2 497.7 L1144.7 500.2 L1145.3 504.2 L1145.8 508.2 L1147.3 512.2 L1149.3 515.8 L1150.8 519.3 L1151.8 522.3 L1153.3 525.5 L1148.3 524.3 L1142.2 522.8 L1137.2 521.8 L1133.7 523.1 L1137.2 524.3 L1143.2 525.8 L1150.3 528.3 L1154.3 529.3 L1155.8 533.3 L1155.3 537.4 L1158.3 540.4 L1159.3 544.4 L1158.3 548.4 L1159.3 552.4 L1159.3 555.4 L1162.3 556.9 L1167.9 556.9 M707.1 897.0 L704.4 885.5 L702.2 876.7 L700.5 867.9 L701.1 861.4 L703.3 854.8 L706.6 849.3 L711.0 843.8 L716.4 838.4 L723.0 832.9 L729.6 829.6 L736.2 826.3 L742.7 821.9 M692.3 858.6 L695.6 861.4 L698.9 863.0 L700.5 862.5 M700.5 847.7 L703.3 849.3 L706.6 847.1 L707.7 842.7 L705.5 843.8 M707.7 840.5 L711.0 837.3 L714.2 834.0 L716.4 836.2 M717.5 832.9 L720.8 826.3 L723.0 829.6 L725.2 825.2 L729.6 827.4"/>
<path stroke-width="2" d="M1136.7 528.3 L1142.2 532.3 L1148.3 537.4 L1154.3 539.4 M1147.8 545.4 L1152.3 548.9 L1157.3 550.9 M1138.7 550.9 L1144.2 550.9 L1150.3 552.4 L1155.3 555.4 L1159.3 555.9 M1143.2 514.7 L1146.3 518.3 L1149.3 520.3 M1133.7 523.1 L1132.2 520.3 L1134.2 514.2 L1135.7 510.2 M247.2 235.3 L243.2 238.3 L238.2 242.4 L234.7 245.4 L237.2 246.6 L242.2 243.9 L245.7 241.3 M251.3 229.3 L249.7 235.3 L247.7 243.4 L244.7 250.4 L240.7 254.2 L235.7 252.4 L239.2 249.6 L243.2 251.6 M243.7 214.2 L246.2 213.2 L249.7 214.2 L249.2 217.2 L246.7 219.7 L244.2 217.7 L243.7 214.2 M249.7 224.3 L252.8 222.3 L254.8 225.3 L253.3 229.3 L250.8 230.3 L249.7 227.3 L249.7 224.3 M255.3 233.3 L252.8 237.3 L251.3 241.3 L250.1 246.4"/>
<path stroke-dasharray="4 2.5" stroke-width="1.8" d="M1127.0 883.3 L1124.0 891.0 L1119.5 897.0 L1109.6 903.3 L1099.6 907.0 L1092.1 909.5"/>
</g>
</g></g>
<!-- frame -->
<rect x="17" y="167" width="1450" height="757" fill="none" stroke="#000" stroke-width="2"/>
<!-- legend -->
<g shape-rendering="crispEdges">
<rect x="214.0" y="939" width="142.4" height="28" fill="#2166ac"/>
<rect x="355.8" y="939" width="144.9" height="28" fill="#67a9cf"/>
<rect x="500.1" y="939" width="144.9" height="28" fill="#d1e5f0"/>
<rect x="644.4" y="939" width="144.9" height="28" fill="#f7f7f7"/>
<rect x="788.7" y="939" width="144.9" height="28" fill="#fddbc7"/>
<rect x="933.0" y="939" width="144.9" height="28" fill="#ef8a62"/>
<rect x="1077.3" y="939" width="147.3" height="28" fill="#b2182b"/>
</g>
<rect x="214" y="939" width="1010" height="28" fill="none" stroke="#000" stroke-width="2"/>
<g font-size="23.5" text-anchor="middle">
<text x="285.6" y="992.8">Coldest</text>
<text x="430.0" y="992.8">Much Below</text><text x="430.0" y="1016.6">Average</text>
<text x="574.3" y="992.8">Below</text><text x="574.3" y="1016.6">Average</text>
<text x="718.6" y="992.8">Near</text><text x="718.6" y="1016.6">Average</text>
<text x="862.9" y="992.8">Above</text><text x="862.9" y="1016.6">Average</text>
<text x="1007.2" y="992.8">Much Above</text><text x="1007.2" y="1016.6">Average</text>
<text x="1151.5" y="992.8">Warmest</text>
</g>
<g font-size="18.9">
<text x="25.3" y="1052.8">Created: Mar 05 2026</text>
<text x="25.3" y="1074.3">Source: nClimGrid-Monthly</text>
</g>
<!-- NOAA logo -->
<g id="noaa" transform="translate(1320,940) scale(0.12788)">
<defs><clipPath id="nc"><circle cx="578" cy="521" r="399"/></clipPath></defs>
<circle cx="578" cy="521" r="399" fill="#0085ca"/>
<g clip-path="url(#nc)">
<path d="M150,100 H1000 V300 L890,282 C850,295 800,340 750,430 C700,520 650,575 600,597 C540,590 470,545 400,470 C330,370 290,320 255,293 L150,300 Z" fill="#003087"/>
<path d="M150,440 L190,415 C230,430 290,490 360,555 C440,600 500,620 555,628 C520,650 480,665 450,668 C470,690 520,690 560,675 C620,650 660,625 720,612 L755,605 C740,596 700,596 665,597 C700,580 760,540 830,470 C890,400 920,360 1000,250 L1000,200 L890,282 C850,295 800,340 750,430 C700,520 650,575 600,597 C540,590 470,545 400,470 C330,370 290,320 255,293 L150,380 Z" fill="#fff"/>
</g>
<g fill="none" stroke="#fff" stroke-width="21" stroke-linejoin="miter">
<path d="M426,388 V300 Q426,294 432,294 H470 Q477,294 477,300 V388"/>
<path d="M510,300 Q510,294 516,294 H556 Q562,294 562,300 V370 Q562,376 556,376 H516 Q510,376 510,370 Z"/>
<path d="M595,388 V300 Q595,294 601,294 H640 Q646,294 646,300 V388 M595,345 H646"/>
<path d="M679,388 V300 Q679,294 685,294 H724 Q730,294 730,300 V388 M679,345 H730"/>
</g>
</g>
</svg>
</body></html>
